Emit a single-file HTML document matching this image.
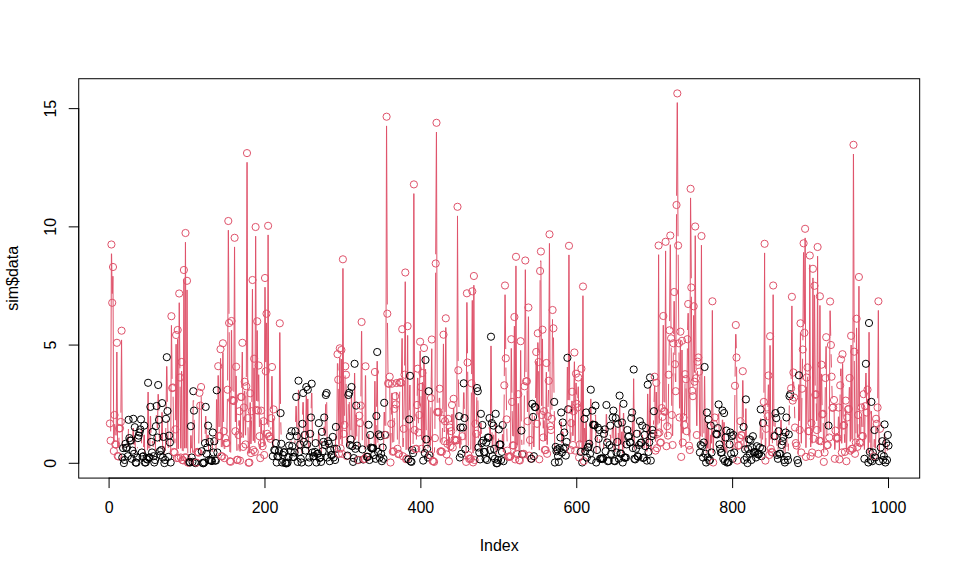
<!DOCTYPE html>
<html><head><meta charset="utf-8"><title>sim$data</title>
<style>html,body{margin:0;padding:0;background:#fff;}svg{display:block;}</style></head>
<body><svg width="960" height="576" viewBox="0 0 960 576">
<rect width="960" height="576" fill="#fff"/>
<g clip-path="url(#c)"><path d="M110.7 431.0L111.4 254.1M111.6 254.1L112.1 293.2M112.4 293.2L112.8 276.6M113.0 276.6L113.7 441.4M114.0 441.4L114.3 424.6M114.8 424.6L115.1 434.8M116.2 435.1L116.8 352.4M116.9 352.4L117.6 446.4M118.7 446.9L119.0 438.1M120.9 412.3L121.5 340.3M121.6 340.3L122.3 447.9M128.0 446.6L128.4 429.4M132.7 441.0L133.0 428.4M133.5 428.4L133.8 444.2M134.3 444.2L134.5 436.8M135.0 436.8L135.4 452.9M137.5 447.9L137.5 447.7M141.3 429.0L141.6 442.9M143.6 446.6L143.9 435.2M144.4 435.2L144.7 452.9M147.4 449.9L148.0 392.4M148.2 392.4L148.7 448.0M149.8 447.9L150.3 416.5M150.6 416.5L151.0 432.3M152.3 442.9L152.4 441.5M153.0 441.5L153.2 446.6M155.3 450.4L155.6 435.8M156.2 416.6L156.3 415.6M156.9 415.6L157.2 427.9M157.6 427.9L158.0 394.6M158.4 394.6L158.8 410.2M159.2 429.4L159.5 441.6M161.5 440.4L161.9 412.7M162.2 412.7L162.7 447.9M163.2 447.9L163.3 446.5M163.9 446.5L164.1 453.5M165.4 450.4L165.8 428.4M166.1 409.2L166.6 366.8M166.9 366.8L167.4 401.4M167.7 420.6L168.2 447.3M168.7 447.3L168.8 445.2M170.3 452.1L170.3 452.9M170.7 452.9L171.4 325.8M171.5 325.8L172.1 378.5M173.1 397.1L173.7 442.3M174.9 442.9L175.0 439.0M175.4 419.8L176.0 344.6M176.2 344.6L176.8 448.5M177.0 448.5L177.6 339.6M177.7 339.6L178.4 448.4M178.5 448.4L179.2 303.1M179.3 303.1L179.9 367.9M180.1 387.1L180.7 447.9M180.9 447.9L181.5 371.6M181.7 371.6L182.3 450.4M183.2 450.8L183.9 279.6M184.0 279.6L184.7 447.8M184.7 447.8L185.4 242.6M185.5 242.6L186.2 447.8M186.3 447.8L187.0 290.3M187.1 290.3L187.8 452.9M190.4 452.9L190.7 435.8M191.2 435.8L191.5 447.9M192.6 452.3L193.2 400.8M193.7 400.8L193.7 401.0M194.2 420.2L194.7 452.9M198.8 443.1L199.4 402.4M201.2 396.6L201.7 441.6M204.6 452.9L204.6 452.7M205.2 433.5L205.5 416.5M205.9 416.5L206.4 444.2M207.6 437.9L207.7 435.2M208.3 435.2L208.6 450.4M212.2 451.5L212.5 442.1M213.1 442.1L213.2 442.9M214.7 450.8L214.7 450.9M216.0 451.0L216.5 399.9M216.8 399.9L217.3 442.9M217.5 442.9L218.1 375.8M218.3 375.8L218.9 426.6M219.9 426.4L220.5 358.8M220.6 358.8L221.3 446.6M222.2 446.8L222.8 352.9M223.0 352.9L223.6 421.6M223.9 440.8L224.2 448.5M224.8 448.5L224.9 447.7M226.9 433.4L227.4 399.3M227.6 380.1L228.3 230.6M228.4 230.6L229.0 313.4M229.2 332.6L229.8 451.6M230.7 452.2L231.4 330.6M231.6 330.6L232.1 390.4M233.8 391.4L234.5 247.3M234.6 247.3L235.3 421.6M235.5 421.6L236.0 376.3M236.2 376.3L236.8 450.4M238.0 450.1L238.2 444.6M238.8 425.4L238.9 420.8M239.4 420.8L239.9 451.0M240.2 451.0L240.7 406.5M241.7 387.4L242.2 352.4M242.4 352.4L243.1 437.3M243.3 437.3L243.7 417.1M244.2 397.9L244.4 391.3M244.8 391.3L245.4 434.8M245.6 434.8L246.1 395.9M246.3 376.7L247.0 162.7M247.1 162.7L247.8 408.5M248.0 427.7L248.4 453.2M249.5 452.9L250.1 402.9M250.3 402.9L250.8 443.5M251.1 443.5L251.5 420.8M251.8 401.6L252.4 289.6M252.5 289.6L253.2 440.4M253.4 440.4L254.0 368.3M254.1 368.3L254.8 442.3M254.9 442.3L255.6 236.6M255.7 236.6L256.4 400.4M256.5 400.4L257.1 330.9M257.3 330.9L257.9 401.0M258.1 401.0L258.6 375.1M258.8 375.1L259.4 426.6M259.9 445.8L260.0 448.5M260.5 448.5L260.9 420.2M261.3 420.2L261.6 433.5M262.9 436.6L263.1 430.8M263.6 430.8L264.0 445.4M264.2 445.4L264.9 287.6M265.1 287.6L265.7 361.7M265.9 361.7L266.4 323.3M266.6 323.3L267.3 424.2M267.4 424.2L268.1 235.3M268.1 235.3L268.8 426.8M270.8 429.2L270.9 427.7M271.4 408.5L271.8 376.6M272.1 376.6L272.7 446.6M272.9 446.6L273.4 419.0M273.7 419.0L274.1 440.4M276.3 452.7L276.3 452.9M279.1 441.6L279.7 332.9M279.9 332.9L280.5 403.5M280.8 422.7L281.1 434.2M291.1 441.6L291.1 440.8M294.9 442.9L295.0 440.8M295.6 421.6L295.9 406.5M296.3 406.5L296.7 426.6M297.2 445.8L297.4 452.3M297.8 452.3L298.4 390.3M298.6 390.3L299.2 442.3M301.8 452.9L302.2 433.4M302.6 414.2L302.9 402.6M303.3 402.6L303.8 432.3M305.6 441.0L306.2 396.6M306.4 396.6L306.9 434.8M307.2 434.8L307.7 399.3M307.9 399.3L308.5 452.9M309.7 447.9L309.9 443.4M311.2 407.9L311.5 393.3M311.9 393.3L312.4 442.9M316.0 452.7L316.0 452.9M318.2 444.0L318.5 432.7M319.0 432.7L319.3 448.5M321.3 452.3L321.6 441.5M322.3 441.5L322.3 441.6M323.7 432.3L323.9 427.1M324.5 427.1L324.7 435.4M325.1 435.4L325.6 404.6M326.7 402.6L327.2 447.9M333.2 446.5L333.2 447.9M335.4 450.4L335.7 436.5M336.2 436.5L336.3 439.2M336.8 439.2L337.4 363.8M337.8 363.8L338.0 370.1M338.3 389.3L338.9 444.2M339.1 444.2L339.7 357.9M339.9 357.9L340.5 438.8M340.7 438.8L341.3 359.6M341.4 359.6L342.1 444.2M342.2 444.2L342.9 268.8M343.0 268.8L343.7 424.2M344.6 415.4L345.1 375.9M346.1 384.3L346.7 446.5M347.7 446.0L348.3 404.6M349.3 402.4L349.8 435.4M350.9 429.8L351.4 396.6M351.6 396.6L352.1 436.6M353.9 448.5L354.5 373.4M354.7 373.4L355.3 439.2M355.6 439.2L356.0 415.2M356.4 415.2L356.8 436.0M358.7 450.4L359.1 425.2M360.9 396.0L361.5 331.6M361.7 331.6L362.3 439.8M364.8 449.2L365.4 375.9M365.6 375.9L366.2 446.9M368.1 447.2L368.4 434.4M368.9 434.4L369.2 450.4M369.7 450.4L369.9 444.6M374.2 445.4L374.8 381.6M375.0 381.6L375.6 449.2M375.8 449.2L376.3 425.6M376.6 406.4L377.1 361.6M377.3 361.6L377.9 442.3M379.1 444.0L379.2 447.9M379.9 447.9L380.0 445.8M383.6 449.2L384.1 412.4M384.5 412.4L384.8 425.3M385.8 425.4L386.5 126.3M386.6 126.3L387.3 304.1M387.5 323.3L388.0 373.7M389.8 386.3L390.4 452.9M390.7 452.9L391.1 433.4M391.4 414.2L391.8 393.3M392.1 393.3L392.7 442.2M393.8 441.6L394.2 418.4M396.3 394.8L396.4 392.6M396.8 392.6L397.4 439.2M399.1 444.2L399.7 392.1M401.5 373.2L402.0 338.8M402.2 338.8L402.9 446.6M403.2 446.6L403.4 438.4M403.9 419.2L404.4 384.3M404.6 365.1L405.2 282.1M405.3 282.1L406.0 449.6M406.9 448.9L407.6 335.8M407.7 335.8L408.3 449.8M408.6 449.8L409.0 429.0M409.3 409.8L409.8 385.4M410.0 385.4L410.6 451.8M413.1 443.5L413.8 194.0M413.9 194.0L414.6 420.4M416.4 439.2L416.8 414.6M417.2 395.4L417.5 378.3M417.9 378.3L418.4 422.9M419.4 405.4L420.0 351.3M420.3 351.3L420.7 377.4M421.0 396.6L421.5 439.2M421.7 439.2L422.3 382.6M422.5 382.6L423.1 451.0M423.3 451.0L423.9 357.6M424.1 357.6L424.7 443.5M424.8 443.5L425.5 369.6M425.6 369.6L426.2 429.8M428.0 447.9L428.5 400.8M428.8 400.8L429.3 445.6M430.4 445.4L430.9 407.7M431.1 388.5L431.7 349.1M431.8 349.1L432.5 451.4M434.4 452.3L434.6 447.7M434.9 428.5L435.6 273.1M435.7 253.9L436.4 132.4M436.5 132.4L437.2 402.4M439.1 402.3L439.3 398.3M439.7 398.3L440.2 442.1M442.1 442.2L442.5 428.4M442.8 409.2L443.4 344.3M443.5 344.3L444.2 431.6M444.6 431.6L444.7 430.8M445.1 411.6L445.7 327.9M445.9 327.9L446.5 444.8M447.7 434.2L447.8 428.4M448.3 428.4L448.7 451.6M449.1 451.6L449.5 437.1M451.5 421.6L451.8 414.6M452.2 414.6L452.6 437.9M453.0 437.9L453.4 408.4M453.8 408.4L454.2 430.0M456.8 430.8L457.5 216.3M457.5 216.3L458.2 360.7M458.4 379.9L458.9 406.6M459.2 425.8L459.7 447.9M460.1 447.9L460.4 437.1M460.9 437.1L461.1 444.2M463.1 417.9L463.6 392.9M464.0 392.9L464.3 408.5M464.8 427.7L465.1 439.8M466.1 452.3L466.8 302.8M467.0 302.8L467.5 352.9M467.7 372.1L468.3 445.4M470.8 449.2L471.4 392.9M471.6 373.7L472.2 300.8M472.4 300.8L473.0 452.8M473.1 452.8L473.8 285.6M473.9 285.6L474.6 450.4M474.9 450.4L475.2 433.4M476.4 424.2L476.8 397.6M477.9 400.8L478.4 437.9M480.3 449.8L480.7 423.4M481.1 423.4L481.4 433.5M487.5 450.4L487.6 447.1M489.1 428.2L489.1 427.7M489.7 427.7L490.0 440.4M490.3 440.4L490.9 346.3M491.1 346.3L491.7 413.5M492.0 432.7L492.3 446.6M492.8 446.6L493.1 435.2M493.7 435.2L493.8 439.2M495.1 449.2L495.5 423.4M495.8 423.4L496.3 453.7M498.3 450.4L498.6 439.0M502.2 442.3L502.4 434.6M502.9 434.6L503.3 451.6M503.6 451.6L504.2 394.9M504.3 375.7L505.0 295.1M505.1 295.1L505.7 348.7M505.9 367.9L506.5 409.8M506.8 429.0L507.1 441.0M510.6 446.6L511.2 348.8M511.4 348.8L511.9 392.3M512.2 411.5L512.7 435.7M513.7 436.0L514.3 326.6M514.5 326.6L515.1 449.8M515.2 449.8L515.9 266.3M516.0 266.3L516.7 444.2M517.6 444.7L518.2 403.8M518.4 403.8L519.0 450.4M519.9 450.9L520.6 350.8M520.7 350.8L521.3 421.0M521.7 440.2L521.9 444.6M523.9 444.2L524.4 395.9M524.6 376.7L525.3 270.1M525.4 270.1L526.0 371.7M527.1 390.9L527.5 411.6M527.7 411.6L528.4 317.1M528.5 317.1L529.2 446.0M531.7 449.2L532.2 413.4M533.3 426.5L533.7 446.6M534.0 446.6L534.5 416.5M535.6 397.6L536.1 361.6M536.3 361.6L536.9 414.2M537.1 414.2L537.7 342.9M538.0 342.9L538.3 352.4M538.6 371.6L539.3 449.7M539.4 449.7L540.1 280.6M540.5 261.4L540.5 261.1M540.9 261.1L541.6 405.4M541.8 405.4L542.4 339.3M542.5 339.3L543.2 427.9M543.5 427.9L543.7 420.8M544.2 420.8L544.6 440.4M545.7 440.4L546.3 372.6M546.4 372.6L547.1 444.2M547.3 444.2L547.7 425.8M548.1 406.6L548.5 390.4M548.7 371.2L549.4 243.8M549.5 243.8L550.2 416.6M551.9 409.2L552.5 319.6M553.5 337.9L554.0 392.3M554.3 411.5L554.8 452.9M560.7 427.9L560.9 422.1M561.4 422.1L561.8 442.9M562.2 442.9L562.5 432.1M563.0 432.1L563.2 439.2M566.7 432.3L567.3 367.4M567.5 367.4L568.0 399.7M568.2 399.7L568.9 255.3M569.0 255.3L569.7 399.8M569.9 419.0L570.3 440.4M570.8 440.4L571.0 432.7M571.5 413.5L571.8 401.3M572.2 401.3L572.7 435.4M573.1 435.4L573.4 420.8M573.8 401.6L574.3 362.1M574.5 362.1L575.1 441.0M575.3 441.0L575.9 383.3M576.2 383.3L576.5 394.2M577.8 397.9L578.1 387.1M578.4 387.1L579.0 447.9M580.7 442.3L581.3 378.3M581.5 378.3L582.1 452.9M582.3 452.9L582.9 296.1M583.0 296.1L583.7 451.6M583.9 451.6L584.4 428.4M584.8 428.4L585.1 441.6M585.5 441.6L585.9 422.1M586.3 422.1L586.7 447.9M590.1 444.2L590.7 399.3M590.9 399.3L591.5 450.4M591.7 450.4L592.2 420.2M595.1 415.4L595.1 415.2M595.6 415.2L596.1 452.9M597.4 440.4L597.5 437.1M599.6 439.6L599.9 449.2M603.6 448.9L603.7 443.4M605.2 439.0L605.3 441.6M605.8 441.6L606.2 414.6M606.6 414.6L607.0 432.9M609.9 435.4L609.9 435.2M610.5 435.2L610.8 444.2M612.1 437.9L612.4 427.1M613.5 420.2L614.0 451.1M615.1 451.6L615.6 427.7M615.9 427.7L616.3 442.9M618.3 433.4L618.6 449.2M619.0 449.2L619.5 405.2M619.8 405.2L620.3 443.8M621.4 444.2L621.7 432.1M622.1 432.1L622.6 452.9M622.9 452.9L623.4 413.4M623.7 413.4L624.2 448.1M630.8 432.7L631.0 427.7M632.3 422.1L632.7 438.5M633.0 438.5L633.6 379.1M633.7 379.1L634.4 449.2M637.1 443.4L637.2 446.6M639.4 435.4L639.6 430.8M640.2 430.8L640.3 433.3M642.5 435.2L642.8 448.4M644.1 447.9L644.2 444.6M646.4 437.7L646.7 451.0M647.0 451.0L647.6 394.3M647.8 394.3L648.4 442.3M649.4 432.9L649.9 387.1M650.1 387.1L650.7 451.0M651.1 451.0L651.3 445.8M653.5 424.2L653.6 420.8M654.1 401.6L654.5 386.3M654.8 386.3L655.4 441.0M655.6 441.0L656.1 392.4M656.4 392.4L656.9 438.5M657.9 424.2L658.6 255.1M658.6 255.1L659.3 422.9M661.2 432.9L661.5 417.7M662.6 407.3L663.2 325.6M663.4 325.6L664.0 401.6M664.9 402.2L665.6 251.3M665.6 251.3L666.4 436.6M666.8 436.6L666.8 435.8M668.1 426.0L668.6 384.3M668.9 365.1L669.3 339.9M669.6 320.7L670.2 245.1M670.4 245.1L671.0 328.7M671.2 347.9L671.7 405.4M672.1 424.6L672.4 435.4M672.7 435.4L673.3 352.9M673.6 333.7L674.0 301.6M674.3 301.6L674.9 354.6M675.2 373.8L675.5 381.6M675.8 381.6L676.5 214.6M676.6 195.4L677.2 103.0M677.4 103.0L678.0 235.9M678.2 255.1L678.8 333.7M679.0 352.9L679.5 407.9M679.7 407.9L680.3 341.3M680.5 341.3L681.1 447.3M681.3 447.3L681.9 350.4M682.1 350.4L682.7 432.9M683.1 432.9L683.2 427.1M684.5 415.4L685.0 383.8M686.0 388.8L686.5 421.6M686.7 421.6L687.4 348.8M687.6 329.6L688.0 313.6M688.3 313.6L688.9 436.0M689.8 440.4L690.5 198.3M690.6 198.3L691.3 277.9M691.4 297.1L692.0 381.2M693.0 386.6L693.6 315.8M693.8 315.8L694.4 372.1M694.5 372.1L695.2 236.1M695.3 236.1L696.0 368.7M696.1 387.9L696.7 425.4M696.9 425.4L697.5 371.3M699.2 381.3L699.8 442.9M700.7 435.4L701.4 245.6M701.5 245.6L702.2 436.6M703.9 432.9L704.5 376.6M704.7 376.6L705.3 444.2M706.3 452.9L706.8 422.1M707.1 422.1L707.5 447.9M707.9 447.9L708.3 429.0M708.7 429.0L709.1 451.1M710.3 450.4L710.6 435.2M711.1 435.2L711.3 442.9M711.6 442.9L712.3 310.8M712.4 310.8L713.1 452.9M713.4 452.9L713.7 433.4M718.2 418.5L718.3 414.0M718.8 414.0L719.2 434.8M721.9 442.9L722.3 420.2M722.7 420.2L723.1 449.2M723.5 449.2L723.9 422.7M724.2 422.7L724.7 451.6M725.2 451.6L725.3 447.1M726.6 440.2L727.0 453.0M730.7 442.1L730.7 444.2M732.2 445.8L732.3 449.2M733.0 449.2L733.1 444.6M734.3 442.9L734.9 395.4M735.1 376.2L735.6 334.6M736.0 334.6L736.3 347.9M736.6 367.1L737.2 451.0M742.1 425.9L742.7 380.8M742.9 380.8L743.4 417.3M743.8 436.5L744.1 450.4M745.3 439.8L745.7 409.0M746.0 409.0L746.5 447.9M750.9 449.6L751.0 450.4M760.1 437.9L760.5 419.0M760.9 419.0L761.3 446.6M762.6 439.2L762.8 432.7M763.4 413.5L763.5 411.5M763.9 392.3L764.6 253.3M764.6 253.3L765.3 451.0M765.6 451.0L765.9 438.4M766.5 419.2L766.6 417.1M767.9 406.6L768.3 385.1M768.6 385.1L769.2 445.4M769.3 445.4L770.0 345.8M770.1 345.8L770.8 439.2M772.4 442.9L773.1 295.1M773.2 295.1L773.9 425.9M775.1 426.6L775.2 422.7M776.5 427.7L776.9 445.4M778.1 449.2L778.4 440.8M779.0 440.8L779.1 444.3M780.4 444.2L780.8 420.2M781.2 420.2L781.5 435.4M783.6 446.5L783.8 450.4M785.1 452.9L785.4 442.1M786.6 427.1L787.0 446.6M788.3 450.4L788.5 444.0M789.0 424.8L789.3 405.8M791.2 378.7L791.8 306.3M792.0 306.3L792.6 391.0M792.9 391.0L793.2 382.1M793.7 382.1L793.9 387.9M794.5 407.1L794.8 417.9M798.2 453.5L798.8 384.9M799.0 384.9L799.5 420.4M799.7 420.4L800.4 332.9M800.5 332.9L801.2 442.9M801.4 442.9L801.9 398.3M802.2 379.1L802.6 359.1M802.9 339.9L803.5 252.8M803.7 252.8L804.3 323.2M804.4 323.2L805.1 238.3M805.2 238.3L805.9 447.3M806.0 447.3L806.6 387.1M807.6 377.1L808.1 421.6M809.1 421.6L809.8 265.1M809.8 265.1L810.6 446.6M810.8 446.6L811.1 432.7M811.6 432.7L811.9 442.9M812.2 442.9L812.9 278.3M813.0 278.3L813.7 429.2M813.8 429.2L814.4 295.3M814.6 295.3L815.2 385.2M816.3 403.8L816.6 420.4M816.9 420.4L817.6 256.6M817.6 256.6L818.3 444.2M819.2 431.0L819.9 305.8M820.0 305.8L820.7 431.6M820.8 431.6L821.4 374.3M821.7 374.3L822.1 404.8M823.2 423.4L823.7 452.3M824.7 442.9L825.3 387.6M825.6 368.4L826.0 346.8M826.2 346.8L826.9 435.6M828.1 435.4L828.1 435.2M829.4 427.9L830.0 311.1M830.2 311.1L830.7 335.4M831.1 354.6L831.4 367.1M831.9 386.3L832.2 398.2M834.1 409.6L834.6 449.2M835.0 449.2L835.3 440.2M838.1 428.5L838.4 417.1M838.8 417.1L839.3 449.8M839.5 449.8L840.1 394.9M840.5 375.7L840.7 369.1M841.1 369.1L841.7 442.9M841.8 442.9L842.5 363.8M842.7 363.8L843.2 416.1M844.4 434.6L844.6 442.3M845.0 442.3L845.5 410.2M845.8 410.2L846.3 451.6M846.6 451.6L847.1 427.1M849.0 399.2L849.3 387.6M849.7 387.6L850.2 441.0M850.4 441.0L851.1 345.4M851.2 345.4L851.8 439.2M852.7 439.2L853.4 154.4M853.5 154.4L854.2 342.1M854.3 361.3L854.9 444.2M855.9 432.9L856.5 328.3M856.6 328.3L857.3 437.3M857.6 437.3L857.9 424.6M858.2 405.4L858.9 286.6M859.0 286.6L859.6 432.9M860.7 433.4L861.0 417.1M861.5 417.1L861.8 426.5M863.0 426.6L863.4 403.8M863.7 403.8L864.3 449.2M864.5 449.2L865.0 415.8M865.3 396.6L865.8 373.4M866.1 373.4L866.6 402.9M867.0 402.9L867.2 399.3M867.6 399.3L868.2 452.9M868.3 452.9L869.0 332.6M869.1 332.6L869.8 442.3M870.7 450.4L871.3 411.5M871.5 411.5L872.0 451.6M874.0 446.6L874.2 439.6M874.8 439.6L875.0 447.9M875.5 447.9L875.9 428.4M877.7 397.9L878.3 310.8M878.4 310.8L879.1 451.6M879.4 451.6L879.7 438.4M884.1 446.6L884.4 434.0M884.8 434.0L885.2 452.9M885.8 452.9L885.8 452.7M887.3 450.4L887.5 444.6" stroke="#DF536B" stroke-width="1" fill="none" stroke-linecap="round"/><g fill="none" stroke-width="1"><circle cx="109.9" cy="423.5" r="3.6" stroke="#DF536B"/><circle cx="110.6" cy="440.6" r="3.6" stroke="#DF536B"/><circle cx="111.4" cy="244.5" r="3.6" stroke="#DF536B"/><circle cx="112.2" cy="302.8" r="3.6" stroke="#DF536B"/><circle cx="113.0" cy="267.0" r="3.6" stroke="#DF536B"/><circle cx="113.8" cy="451.0" r="3.6" stroke="#DF536B"/><circle cx="114.5" cy="415.0" r="3.6" stroke="#DF536B"/><circle cx="115.3" cy="444.4" r="3.6" stroke="#DF536B"/><circle cx="116.1" cy="444.6" r="3.6" stroke="#DF536B"/><circle cx="116.9" cy="342.8" r="3.6" stroke="#DF536B"/><circle cx="117.7" cy="456.0" r="3.6" stroke="#DF536B"/><circle cx="118.4" cy="456.5" r="3.6" stroke="#DF536B"/><circle cx="119.2" cy="428.5" r="3.6" stroke="#DF536B"/><circle cx="120.0" cy="428.3" r="3.6" stroke="#DF536B"/><circle cx="120.8" cy="421.9" r="3.6" stroke="#DF536B"/><circle cx="121.6" cy="330.7" r="3.6" stroke="#DF536B"/><circle cx="122.3" cy="457.5" r="3.6" stroke="#000"/><circle cx="123.1" cy="448.1" r="3.6" stroke="#000"/><circle cx="123.9" cy="463.1" r="3.6" stroke="#000"/><circle cx="124.7" cy="460.0" r="3.6" stroke="#000"/><circle cx="125.5" cy="443.8" r="3.6" stroke="#000"/><circle cx="126.2" cy="448.1" r="3.6" stroke="#000"/><circle cx="127.0" cy="447.5" r="3.6" stroke="#000"/><circle cx="127.8" cy="456.2" r="3.6" stroke="#000"/><circle cx="128.6" cy="419.8" r="3.6" stroke="#000"/><circle cx="129.4" cy="438.1" r="3.6" stroke="#000"/><circle cx="130.1" cy="440.5" r="3.6" stroke="#000"/><circle cx="130.9" cy="440.6" r="3.6" stroke="#000"/><circle cx="131.7" cy="458.8" r="3.6" stroke="#000"/><circle cx="132.5" cy="450.6" r="3.6" stroke="#000"/><circle cx="133.3" cy="418.8" r="3.6" stroke="#000"/><circle cx="134.0" cy="453.8" r="3.6" stroke="#000"/><circle cx="134.8" cy="427.2" r="3.6" stroke="#000"/><circle cx="135.6" cy="462.5" r="3.6" stroke="#000"/><circle cx="136.4" cy="462.7" r="3.6" stroke="#000"/><circle cx="137.1" cy="457.5" r="3.6" stroke="#000"/><circle cx="137.9" cy="438.1" r="3.6" stroke="#000"/><circle cx="138.7" cy="435.6" r="3.6" stroke="#000"/><circle cx="139.5" cy="432.5" r="3.6" stroke="#000"/><circle cx="140.3" cy="429.4" r="3.6" stroke="#000"/><circle cx="141.0" cy="419.4" r="3.6" stroke="#000"/><circle cx="141.8" cy="452.5" r="3.6" stroke="#000"/><circle cx="142.6" cy="456.8" r="3.6" stroke="#000"/><circle cx="143.4" cy="456.2" r="3.6" stroke="#000"/><circle cx="144.2" cy="425.6" r="3.6" stroke="#000"/><circle cx="144.9" cy="462.5" r="3.6" stroke="#000"/><circle cx="145.7" cy="462.5" r="3.6" stroke="#000"/><circle cx="146.5" cy="458.8" r="3.6" stroke="#000"/><circle cx="147.3" cy="459.5" r="3.6" stroke="#000"/><circle cx="148.1" cy="382.8" r="3.6" stroke="#000"/><circle cx="148.8" cy="457.6" r="3.6" stroke="#000"/><circle cx="149.6" cy="457.5" r="3.6" stroke="#000"/><circle cx="150.4" cy="406.9" r="3.6" stroke="#000"/><circle cx="151.2" cy="441.9" r="3.6" stroke="#000"/><circle cx="152.0" cy="452.5" r="3.6" stroke="#000"/><circle cx="152.7" cy="431.9" r="3.6" stroke="#000"/><circle cx="153.5" cy="456.2" r="3.6" stroke="#000"/><circle cx="154.3" cy="462.5" r="3.6" stroke="#000"/><circle cx="155.1" cy="460.0" r="3.6" stroke="#000"/><circle cx="155.9" cy="426.2" r="3.6" stroke="#000"/><circle cx="156.6" cy="406.0" r="3.6" stroke="#000"/><circle cx="157.4" cy="437.5" r="3.6" stroke="#000"/><circle cx="158.2" cy="385.0" r="3.6" stroke="#000"/><circle cx="159.0" cy="419.8" r="3.6" stroke="#000"/><circle cx="159.8" cy="451.2" r="3.6" stroke="#000"/><circle cx="160.5" cy="455.0" r="3.6" stroke="#000"/><circle cx="161.3" cy="450.0" r="3.6" stroke="#000"/><circle cx="162.1" cy="403.1" r="3.6" stroke="#000"/><circle cx="162.9" cy="457.5" r="3.6" stroke="#000"/><circle cx="163.6" cy="436.9" r="3.6" stroke="#000"/><circle cx="164.4" cy="463.1" r="3.6" stroke="#000"/><circle cx="165.2" cy="460.0" r="3.6" stroke="#000"/><circle cx="166.0" cy="418.8" r="3.6" stroke="#000"/><circle cx="166.8" cy="357.2" r="3.6" stroke="#000"/><circle cx="167.5" cy="411.0" r="3.6" stroke="#000"/><circle cx="168.3" cy="456.9" r="3.6" stroke="#000"/><circle cx="169.1" cy="435.6" r="3.6" stroke="#000"/><circle cx="169.9" cy="442.5" r="3.6" stroke="#000"/><circle cx="170.7" cy="462.5" r="3.6" stroke="#000"/><circle cx="171.4" cy="316.2" r="3.6" stroke="#DF536B"/><circle cx="172.2" cy="388.1" r="3.6" stroke="#DF536B"/><circle cx="173.0" cy="387.5" r="3.6" stroke="#DF536B"/><circle cx="173.8" cy="451.9" r="3.6" stroke="#DF536B"/><circle cx="174.6" cy="452.5" r="3.6" stroke="#DF536B"/><circle cx="175.3" cy="429.4" r="3.6" stroke="#DF536B"/><circle cx="176.1" cy="335.0" r="3.6" stroke="#DF536B"/><circle cx="176.9" cy="458.1" r="3.6" stroke="#DF536B"/><circle cx="177.7" cy="330.0" r="3.6" stroke="#DF536B"/><circle cx="178.5" cy="458.0" r="3.6" stroke="#DF536B"/><circle cx="179.2" cy="293.5" r="3.6" stroke="#DF536B"/><circle cx="180.0" cy="377.5" r="3.6" stroke="#DF536B"/><circle cx="180.8" cy="457.5" r="3.6" stroke="#DF536B"/><circle cx="181.6" cy="362.0" r="3.6" stroke="#DF536B"/><circle cx="182.4" cy="460.0" r="3.6" stroke="#DF536B"/><circle cx="183.1" cy="460.4" r="3.6" stroke="#DF536B"/><circle cx="183.9" cy="270.0" r="3.6" stroke="#DF536B"/><circle cx="184.7" cy="457.4" r="3.6" stroke="#DF536B"/><circle cx="185.5" cy="233.0" r="3.6" stroke="#DF536B"/><circle cx="186.3" cy="457.4" r="3.6" stroke="#DF536B"/><circle cx="187.0" cy="280.8" r="3.6" stroke="#DF536B"/><circle cx="187.8" cy="462.5" r="3.6" stroke="#DF536B"/><circle cx="188.6" cy="462.6" r="3.6" stroke="#DF536B"/><circle cx="189.4" cy="462.0" r="3.6" stroke="#000"/><circle cx="190.1" cy="462.5" r="3.6" stroke="#000"/><circle cx="190.9" cy="426.2" r="3.6" stroke="#000"/><circle cx="191.7" cy="457.5" r="3.6" stroke="#000"/><circle cx="192.5" cy="461.9" r="3.6" stroke="#000"/><circle cx="193.3" cy="391.2" r="3.6" stroke="#000"/><circle cx="194.0" cy="410.6" r="3.6" stroke="#000"/><circle cx="194.8" cy="462.5" r="3.6" stroke="#000"/><circle cx="195.6" cy="463.1" r="3.6" stroke="#000"/><circle cx="196.4" cy="462.6" r="3.6" stroke="#DF536B"/><circle cx="197.2" cy="451.9" r="3.6" stroke="#DF536B"/><circle cx="197.9" cy="452.2" r="3.6" stroke="#DF536B"/><circle cx="198.7" cy="452.7" r="3.6" stroke="#DF536B"/><circle cx="199.5" cy="392.8" r="3.6" stroke="#DF536B"/><circle cx="200.3" cy="405.6" r="3.6" stroke="#DF536B"/><circle cx="201.1" cy="387.0" r="3.6" stroke="#DF536B"/><circle cx="201.8" cy="451.2" r="3.6" stroke="#000"/><circle cx="202.6" cy="463.0" r="3.6" stroke="#000"/><circle cx="203.4" cy="463.3" r="3.6" stroke="#000"/><circle cx="204.2" cy="462.5" r="3.6" stroke="#000"/><circle cx="205.0" cy="443.1" r="3.6" stroke="#000"/><circle cx="205.7" cy="406.9" r="3.6" stroke="#000"/><circle cx="206.5" cy="453.8" r="3.6" stroke="#000"/><circle cx="207.3" cy="447.5" r="3.6" stroke="#000"/><circle cx="208.1" cy="425.6" r="3.6" stroke="#000"/><circle cx="208.9" cy="460.0" r="3.6" stroke="#000"/><circle cx="209.6" cy="441.9" r="3.6" stroke="#000"/><circle cx="210.4" cy="460.2" r="3.6" stroke="#000"/><circle cx="211.2" cy="460.6" r="3.6" stroke="#000"/><circle cx="212.0" cy="461.1" r="3.6" stroke="#000"/><circle cx="212.8" cy="432.5" r="3.6" stroke="#000"/><circle cx="213.5" cy="452.5" r="3.6" stroke="#000"/><circle cx="214.3" cy="441.2" r="3.6" stroke="#000"/><circle cx="215.1" cy="460.5" r="3.6" stroke="#000"/><circle cx="215.9" cy="460.6" r="3.6" stroke="#000"/><circle cx="216.7" cy="390.3" r="3.6" stroke="#000"/><circle cx="217.4" cy="452.5" r="3.6" stroke="#000"/><circle cx="218.2" cy="366.2" r="3.6" stroke="#DF536B"/><circle cx="219.0" cy="436.2" r="3.6" stroke="#DF536B"/><circle cx="219.8" cy="436.0" r="3.6" stroke="#DF536B"/><circle cx="220.5" cy="349.2" r="3.6" stroke="#DF536B"/><circle cx="221.3" cy="456.2" r="3.6" stroke="#DF536B"/><circle cx="222.1" cy="456.4" r="3.6" stroke="#DF536B"/><circle cx="222.9" cy="343.3" r="3.6" stroke="#DF536B"/><circle cx="223.7" cy="431.2" r="3.6" stroke="#DF536B"/><circle cx="224.4" cy="458.1" r="3.6" stroke="#DF536B"/><circle cx="225.2" cy="438.1" r="3.6" stroke="#DF536B"/><circle cx="226.0" cy="443.1" r="3.6" stroke="#DF536B"/><circle cx="226.8" cy="443.0" r="3.6" stroke="#DF536B"/><circle cx="227.6" cy="389.7" r="3.6" stroke="#DF536B"/><circle cx="228.3" cy="221.0" r="3.6" stroke="#DF536B"/><circle cx="229.1" cy="323.0" r="3.6" stroke="#DF536B"/><circle cx="229.9" cy="461.2" r="3.6" stroke="#DF536B"/><circle cx="230.7" cy="461.8" r="3.6" stroke="#DF536B"/><circle cx="231.5" cy="321.0" r="3.6" stroke="#DF536B"/><circle cx="232.2" cy="400.0" r="3.6" stroke="#DF536B"/><circle cx="233.0" cy="400.6" r="3.6" stroke="#DF536B"/><circle cx="233.8" cy="401.0" r="3.6" stroke="#DF536B"/><circle cx="234.6" cy="237.8" r="3.6" stroke="#DF536B"/><circle cx="235.4" cy="431.2" r="3.6" stroke="#DF536B"/><circle cx="236.1" cy="366.7" r="3.6" stroke="#DF536B"/><circle cx="236.9" cy="460.0" r="3.6" stroke="#DF536B"/><circle cx="237.7" cy="459.7" r="3.6" stroke="#DF536B"/><circle cx="238.5" cy="435.0" r="3.6" stroke="#DF536B"/><circle cx="239.3" cy="411.2" r="3.6" stroke="#DF536B"/><circle cx="240.0" cy="460.6" r="3.6" stroke="#DF536B"/><circle cx="240.8" cy="396.9" r="3.6" stroke="#DF536B"/><circle cx="241.6" cy="397.0" r="3.6" stroke="#DF536B"/><circle cx="242.4" cy="342.8" r="3.6" stroke="#DF536B"/><circle cx="243.2" cy="446.9" r="3.6" stroke="#DF536B"/><circle cx="243.9" cy="407.5" r="3.6" stroke="#DF536B"/><circle cx="244.7" cy="381.7" r="3.6" stroke="#DF536B"/><circle cx="245.5" cy="444.4" r="3.6" stroke="#DF536B"/><circle cx="246.3" cy="386.3" r="3.6" stroke="#DF536B"/><circle cx="247.0" cy="153.1" r="3.6" stroke="#DF536B"/><circle cx="247.8" cy="418.1" r="3.6" stroke="#DF536B"/><circle cx="248.6" cy="462.8" r="3.6" stroke="#DF536B"/><circle cx="249.4" cy="462.5" r="3.6" stroke="#DF536B"/><circle cx="250.2" cy="393.3" r="3.6" stroke="#DF536B"/><circle cx="250.9" cy="453.1" r="3.6" stroke="#DF536B"/><circle cx="251.7" cy="411.2" r="3.6" stroke="#DF536B"/><circle cx="252.5" cy="280.0" r="3.6" stroke="#DF536B"/><circle cx="253.3" cy="450.0" r="3.6" stroke="#DF536B"/><circle cx="254.1" cy="358.7" r="3.6" stroke="#DF536B"/><circle cx="254.8" cy="451.9" r="3.6" stroke="#DF536B"/><circle cx="255.6" cy="227.0" r="3.6" stroke="#DF536B"/><circle cx="256.4" cy="410.0" r="3.6" stroke="#DF536B"/><circle cx="257.2" cy="321.3" r="3.6" stroke="#DF536B"/><circle cx="258.0" cy="410.6" r="3.6" stroke="#DF536B"/><circle cx="258.7" cy="365.5" r="3.6" stroke="#DF536B"/><circle cx="259.5" cy="436.2" r="3.6" stroke="#DF536B"/><circle cx="260.3" cy="458.1" r="3.6" stroke="#DF536B"/><circle cx="261.1" cy="410.6" r="3.6" stroke="#DF536B"/><circle cx="261.9" cy="443.1" r="3.6" stroke="#DF536B"/><circle cx="262.6" cy="446.2" r="3.6" stroke="#DF536B"/><circle cx="263.4" cy="421.2" r="3.6" stroke="#DF536B"/><circle cx="264.2" cy="455.0" r="3.6" stroke="#DF536B"/><circle cx="265.0" cy="278.0" r="3.6" stroke="#DF536B"/><circle cx="265.8" cy="371.3" r="3.6" stroke="#DF536B"/><circle cx="266.5" cy="313.7" r="3.6" stroke="#DF536B"/><circle cx="267.3" cy="433.8" r="3.6" stroke="#DF536B"/><circle cx="268.1" cy="225.8" r="3.6" stroke="#DF536B"/><circle cx="268.9" cy="436.4" r="3.6" stroke="#DF536B"/><circle cx="269.7" cy="436.2" r="3.6" stroke="#DF536B"/><circle cx="270.4" cy="438.8" r="3.6" stroke="#DF536B"/><circle cx="271.2" cy="418.1" r="3.6" stroke="#DF536B"/><circle cx="272.0" cy="367.0" r="3.6" stroke="#DF536B"/><circle cx="272.8" cy="456.2" r="3.6" stroke="#000"/><circle cx="273.6" cy="409.4" r="3.6" stroke="#DF536B"/><circle cx="274.3" cy="450.0" r="3.6" stroke="#000"/><circle cx="275.1" cy="450.4" r="3.6" stroke="#000"/><circle cx="275.9" cy="443.1" r="3.6" stroke="#000"/><circle cx="276.7" cy="462.5" r="3.6" stroke="#000"/><circle cx="277.4" cy="456.2" r="3.6" stroke="#000"/><circle cx="278.2" cy="456.7" r="3.6" stroke="#000"/><circle cx="279.0" cy="451.2" r="3.6" stroke="#000"/><circle cx="279.8" cy="323.3" r="3.6" stroke="#DF536B"/><circle cx="280.6" cy="413.1" r="3.6" stroke="#000"/><circle cx="281.3" cy="443.8" r="3.6" stroke="#000"/><circle cx="282.1" cy="462.5" r="3.6" stroke="#000"/><circle cx="282.9" cy="455.0" r="3.6" stroke="#000"/><circle cx="283.7" cy="452.5" r="3.6" stroke="#000"/><circle cx="284.5" cy="452.1" r="3.6" stroke="#000"/><circle cx="285.2" cy="463.1" r="3.6" stroke="#000"/><circle cx="286.0" cy="463.3" r="3.6" stroke="#000"/><circle cx="286.8" cy="463.3" r="3.6" stroke="#000"/><circle cx="287.6" cy="462.5" r="3.6" stroke="#000"/><circle cx="288.4" cy="456.9" r="3.6" stroke="#000"/><circle cx="289.1" cy="445.6" r="3.6" stroke="#000"/><circle cx="289.9" cy="436.2" r="3.6" stroke="#000"/><circle cx="290.7" cy="451.2" r="3.6" stroke="#000"/><circle cx="291.5" cy="431.2" r="3.6" stroke="#000"/><circle cx="292.3" cy="446.2" r="3.6" stroke="#000"/><circle cx="293.0" cy="457.1" r="3.6" stroke="#000"/><circle cx="293.8" cy="456.9" r="3.6" stroke="#000"/><circle cx="294.6" cy="452.5" r="3.6" stroke="#000"/><circle cx="295.4" cy="431.2" r="3.6" stroke="#000"/><circle cx="296.2" cy="396.9" r="3.6" stroke="#000"/><circle cx="296.9" cy="436.2" r="3.6" stroke="#000"/><circle cx="297.7" cy="461.9" r="3.6" stroke="#000"/><circle cx="298.5" cy="380.7" r="3.6" stroke="#000"/><circle cx="299.3" cy="451.9" r="3.6" stroke="#000"/><circle cx="300.1" cy="444.4" r="3.6" stroke="#000"/><circle cx="300.8" cy="458.8" r="3.6" stroke="#000"/><circle cx="301.6" cy="462.5" r="3.6" stroke="#000"/><circle cx="302.4" cy="423.8" r="3.6" stroke="#000"/><circle cx="303.2" cy="393.0" r="3.6" stroke="#000"/><circle cx="303.9" cy="441.9" r="3.6" stroke="#000"/><circle cx="304.7" cy="435.0" r="3.6" stroke="#000"/><circle cx="305.5" cy="450.6" r="3.6" stroke="#000"/><circle cx="306.3" cy="387.0" r="3.6" stroke="#000"/><circle cx="307.1" cy="444.4" r="3.6" stroke="#000"/><circle cx="307.8" cy="389.7" r="3.6" stroke="#000"/><circle cx="308.6" cy="462.5" r="3.6" stroke="#000"/><circle cx="309.4" cy="457.5" r="3.6" stroke="#000"/><circle cx="310.2" cy="433.8" r="3.6" stroke="#000"/><circle cx="311.0" cy="417.5" r="3.6" stroke="#000"/><circle cx="311.7" cy="383.7" r="3.6" stroke="#000"/><circle cx="312.5" cy="452.5" r="3.6" stroke="#000"/><circle cx="313.3" cy="456.3" r="3.6" stroke="#000"/><circle cx="314.1" cy="456.2" r="3.6" stroke="#000"/><circle cx="314.9" cy="451.9" r="3.6" stroke="#000"/><circle cx="315.6" cy="443.1" r="3.6" stroke="#000"/><circle cx="316.4" cy="462.5" r="3.6" stroke="#000"/><circle cx="317.2" cy="453.8" r="3.6" stroke="#000"/><circle cx="318.0" cy="453.6" r="3.6" stroke="#000"/><circle cx="318.8" cy="423.1" r="3.6" stroke="#000"/><circle cx="319.5" cy="458.1" r="3.6" stroke="#000"/><circle cx="320.3" cy="457.5" r="3.6" stroke="#000"/><circle cx="321.1" cy="461.9" r="3.6" stroke="#000"/><circle cx="321.9" cy="431.9" r="3.6" stroke="#000"/><circle cx="322.7" cy="451.2" r="3.6" stroke="#000"/><circle cx="323.4" cy="441.9" r="3.6" stroke="#000"/><circle cx="324.2" cy="417.5" r="3.6" stroke="#000"/><circle cx="325.0" cy="445.0" r="3.6" stroke="#000"/><circle cx="325.8" cy="395.0" r="3.6" stroke="#000"/><circle cx="326.6" cy="393.0" r="3.6" stroke="#000"/><circle cx="327.3" cy="457.5" r="3.6" stroke="#000"/><circle cx="328.1" cy="441.2" r="3.6" stroke="#000"/><circle cx="328.9" cy="443.8" r="3.6" stroke="#000"/><circle cx="329.7" cy="461.2" r="3.6" stroke="#000"/><circle cx="330.4" cy="450.0" r="3.6" stroke="#000"/><circle cx="331.2" cy="455.0" r="3.6" stroke="#000"/><circle cx="332.0" cy="455.0" r="3.6" stroke="#000"/><circle cx="332.8" cy="436.9" r="3.6" stroke="#000"/><circle cx="333.6" cy="457.5" r="3.6" stroke="#000"/><circle cx="334.3" cy="448.8" r="3.6" stroke="#000"/><circle cx="335.1" cy="460.0" r="3.6" stroke="#000"/><circle cx="335.9" cy="426.9" r="3.6" stroke="#000"/><circle cx="336.7" cy="448.8" r="3.6" stroke="#000"/><circle cx="337.5" cy="354.2" r="3.6" stroke="#DF536B"/><circle cx="338.2" cy="379.7" r="3.6" stroke="#DF536B"/><circle cx="339.0" cy="453.8" r="3.6" stroke="#DF536B"/><circle cx="339.8" cy="348.3" r="3.6" stroke="#DF536B"/><circle cx="340.6" cy="448.4" r="3.6" stroke="#DF536B"/><circle cx="341.4" cy="350.0" r="3.6" stroke="#DF536B"/><circle cx="342.1" cy="453.8" r="3.6" stroke="#DF536B"/><circle cx="342.9" cy="259.3" r="3.6" stroke="#DF536B"/><circle cx="343.7" cy="433.8" r="3.6" stroke="#DF536B"/><circle cx="344.5" cy="425.0" r="3.6" stroke="#DF536B"/><circle cx="345.3" cy="366.3" r="3.6" stroke="#DF536B"/><circle cx="346.0" cy="374.7" r="3.6" stroke="#DF536B"/><circle cx="346.8" cy="456.1" r="3.6" stroke="#DF536B"/><circle cx="347.6" cy="455.6" r="3.6" stroke="#000"/><circle cx="348.4" cy="395.0" r="3.6" stroke="#000"/><circle cx="349.2" cy="392.8" r="3.6" stroke="#000"/><circle cx="349.9" cy="445.0" r="3.6" stroke="#000"/><circle cx="350.7" cy="439.4" r="3.6" stroke="#000"/><circle cx="351.5" cy="387.0" r="3.6" stroke="#000"/><circle cx="352.3" cy="446.2" r="3.6" stroke="#000"/><circle cx="353.1" cy="461.9" r="3.6" stroke="#000"/><circle cx="353.8" cy="458.1" r="3.6" stroke="#000"/><circle cx="354.6" cy="363.8" r="3.6" stroke="#000"/><circle cx="355.4" cy="448.8" r="3.6" stroke="#000"/><circle cx="356.2" cy="405.6" r="3.6" stroke="#000"/><circle cx="357.0" cy="445.6" r="3.6" stroke="#000"/><circle cx="357.7" cy="460.0" r="3.6" stroke="#000"/><circle cx="358.5" cy="460.0" r="3.6" stroke="#DF536B"/><circle cx="359.3" cy="415.6" r="3.6" stroke="#DF536B"/><circle cx="360.1" cy="423.1" r="3.6" stroke="#DF536B"/><circle cx="360.8" cy="405.6" r="3.6" stroke="#DF536B"/><circle cx="361.6" cy="322.0" r="3.6" stroke="#DF536B"/><circle cx="362.4" cy="449.4" r="3.6" stroke="#000"/><circle cx="363.2" cy="459.5" r="3.6" stroke="#000"/><circle cx="364.0" cy="459.2" r="3.6" stroke="#DF536B"/><circle cx="364.7" cy="458.8" r="3.6" stroke="#DF536B"/><circle cx="365.5" cy="366.3" r="3.6" stroke="#DF536B"/><circle cx="366.3" cy="456.5" r="3.6" stroke="#DF536B"/><circle cx="367.1" cy="456.9" r="3.6" stroke="#000"/><circle cx="367.9" cy="456.8" r="3.6" stroke="#000"/><circle cx="368.6" cy="424.8" r="3.6" stroke="#000"/><circle cx="369.4" cy="460.0" r="3.6" stroke="#000"/><circle cx="370.2" cy="435.0" r="3.6" stroke="#000"/><circle cx="371.0" cy="447.6" r="3.6" stroke="#000"/><circle cx="371.8" cy="448.4" r="3.6" stroke="#000"/><circle cx="372.5" cy="448.1" r="3.6" stroke="#000"/><circle cx="373.3" cy="448.1" r="3.6" stroke="#000"/><circle cx="374.1" cy="455.0" r="3.6" stroke="#000"/><circle cx="374.9" cy="372.0" r="3.6" stroke="#DF536B"/><circle cx="375.7" cy="458.8" r="3.6" stroke="#000"/><circle cx="376.4" cy="416.0" r="3.6" stroke="#000"/><circle cx="377.2" cy="352.0" r="3.6" stroke="#000"/><circle cx="378.0" cy="451.9" r="3.6" stroke="#000"/><circle cx="378.8" cy="434.4" r="3.6" stroke="#000"/><circle cx="379.6" cy="457.5" r="3.6" stroke="#000"/><circle cx="380.3" cy="436.2" r="3.6" stroke="#000"/><circle cx="381.1" cy="453.8" r="3.6" stroke="#000"/><circle cx="381.9" cy="461.2" r="3.6" stroke="#000"/><circle cx="382.7" cy="447.5" r="3.6" stroke="#000"/><circle cx="383.5" cy="458.8" r="3.6" stroke="#000"/><circle cx="384.2" cy="402.8" r="3.6" stroke="#000"/><circle cx="385.0" cy="434.9" r="3.6" stroke="#000"/><circle cx="385.8" cy="435.0" r="3.6" stroke="#DF536B"/><circle cx="386.6" cy="116.7" r="3.6" stroke="#DF536B"/><circle cx="387.3" cy="313.7" r="3.6" stroke="#DF536B"/><circle cx="388.1" cy="383.3" r="3.6" stroke="#DF536B"/><circle cx="388.9" cy="383.9" r="3.6" stroke="#DF536B"/><circle cx="389.7" cy="376.7" r="3.6" stroke="#DF536B"/><circle cx="390.5" cy="462.5" r="3.6" stroke="#DF536B"/><circle cx="391.2" cy="423.8" r="3.6" stroke="#DF536B"/><circle cx="392.0" cy="383.7" r="3.6" stroke="#DF536B"/><circle cx="392.8" cy="451.8" r="3.6" stroke="#DF536B"/><circle cx="393.6" cy="451.2" r="3.6" stroke="#DF536B"/><circle cx="394.4" cy="408.8" r="3.6" stroke="#DF536B"/><circle cx="395.1" cy="396.2" r="3.6" stroke="#DF536B"/><circle cx="395.9" cy="404.4" r="3.6" stroke="#DF536B"/><circle cx="396.7" cy="383.0" r="3.6" stroke="#DF536B"/><circle cx="397.5" cy="448.8" r="3.6" stroke="#DF536B"/><circle cx="398.3" cy="454.1" r="3.6" stroke="#DF536B"/><circle cx="399.0" cy="453.8" r="3.6" stroke="#DF536B"/><circle cx="399.8" cy="382.5" r="3.6" stroke="#DF536B"/><circle cx="400.6" cy="382.2" r="3.6" stroke="#DF536B"/><circle cx="401.4" cy="382.8" r="3.6" stroke="#DF536B"/><circle cx="402.2" cy="329.2" r="3.6" stroke="#DF536B"/><circle cx="402.9" cy="456.2" r="3.6" stroke="#DF536B"/><circle cx="403.7" cy="428.8" r="3.6" stroke="#DF536B"/><circle cx="404.5" cy="374.7" r="3.6" stroke="#DF536B"/><circle cx="405.3" cy="272.5" r="3.6" stroke="#DF536B"/><circle cx="406.1" cy="459.2" r="3.6" stroke="#DF536B"/><circle cx="406.8" cy="458.5" r="3.6" stroke="#DF536B"/><circle cx="407.6" cy="326.2" r="3.6" stroke="#DF536B"/><circle cx="408.4" cy="459.4" r="3.6" stroke="#000"/><circle cx="409.2" cy="419.4" r="3.6" stroke="#000"/><circle cx="410.0" cy="375.8" r="3.6" stroke="#000"/><circle cx="410.7" cy="461.4" r="3.6" stroke="#000"/><circle cx="411.5" cy="461.9" r="3.6" stroke="#000"/><circle cx="412.3" cy="450.0" r="3.6" stroke="#000"/><circle cx="413.1" cy="453.1" r="3.6" stroke="#000"/><circle cx="413.9" cy="184.4" r="3.6" stroke="#DF536B"/><circle cx="414.6" cy="430.0" r="3.6" stroke="#DF536B"/><circle cx="415.4" cy="449.1" r="3.6" stroke="#DF536B"/><circle cx="416.2" cy="448.8" r="3.6" stroke="#DF536B"/><circle cx="417.0" cy="405.0" r="3.6" stroke="#DF536B"/><circle cx="417.7" cy="368.7" r="3.6" stroke="#DF536B"/><circle cx="418.5" cy="432.5" r="3.6" stroke="#DF536B"/><circle cx="419.3" cy="415.0" r="3.6" stroke="#DF536B"/><circle cx="420.1" cy="341.7" r="3.6" stroke="#DF536B"/><circle cx="420.9" cy="387.0" r="3.6" stroke="#DF536B"/><circle cx="421.6" cy="448.8" r="3.6" stroke="#DF536B"/><circle cx="422.4" cy="373.0" r="3.6" stroke="#DF536B"/><circle cx="423.2" cy="460.6" r="3.6" stroke="#000"/><circle cx="424.0" cy="348.0" r="3.6" stroke="#DF536B"/><circle cx="424.8" cy="453.1" r="3.6" stroke="#000"/><circle cx="425.5" cy="360.0" r="3.6" stroke="#000"/><circle cx="426.3" cy="439.4" r="3.6" stroke="#000"/><circle cx="427.1" cy="448.8" r="3.6" stroke="#000"/><circle cx="427.9" cy="457.5" r="3.6" stroke="#000"/><circle cx="428.7" cy="391.2" r="3.6" stroke="#000"/><circle cx="429.4" cy="455.2" r="3.6" stroke="#000"/><circle cx="430.2" cy="455.0" r="3.6" stroke="#DF536B"/><circle cx="431.0" cy="398.1" r="3.6" stroke="#DF536B"/><circle cx="431.8" cy="339.5" r="3.6" stroke="#DF536B"/><circle cx="432.6" cy="461.0" r="3.6" stroke="#DF536B"/><circle cx="433.3" cy="461.2" r="3.6" stroke="#DF536B"/><circle cx="434.1" cy="461.9" r="3.6" stroke="#DF536B"/><circle cx="434.9" cy="438.1" r="3.6" stroke="#DF536B"/><circle cx="435.7" cy="263.5" r="3.6" stroke="#DF536B"/><circle cx="436.5" cy="122.8" r="3.6" stroke="#DF536B"/><circle cx="437.2" cy="412.0" r="3.6" stroke="#DF536B"/><circle cx="438.0" cy="412.4" r="3.6" stroke="#DF536B"/><circle cx="438.8" cy="411.9" r="3.6" stroke="#DF536B"/><circle cx="439.6" cy="388.7" r="3.6" stroke="#DF536B"/><circle cx="440.4" cy="451.7" r="3.6" stroke="#DF536B"/><circle cx="441.1" cy="451.2" r="3.6" stroke="#DF536B"/><circle cx="441.9" cy="451.8" r="3.6" stroke="#DF536B"/><circle cx="442.7" cy="418.8" r="3.6" stroke="#DF536B"/><circle cx="443.5" cy="334.7" r="3.6" stroke="#DF536B"/><circle cx="444.2" cy="441.2" r="3.6" stroke="#DF536B"/><circle cx="445.0" cy="421.2" r="3.6" stroke="#DF536B"/><circle cx="445.8" cy="318.3" r="3.6" stroke="#DF536B"/><circle cx="446.6" cy="454.4" r="3.6" stroke="#DF536B"/><circle cx="447.4" cy="443.8" r="3.6" stroke="#DF536B"/><circle cx="448.1" cy="418.8" r="3.6" stroke="#DF536B"/><circle cx="448.9" cy="461.2" r="3.6" stroke="#DF536B"/><circle cx="449.7" cy="427.5" r="3.6" stroke="#DF536B"/><circle cx="450.5" cy="446.2" r="3.6" stroke="#DF536B"/><circle cx="451.3" cy="431.2" r="3.6" stroke="#DF536B"/><circle cx="452.0" cy="405.0" r="3.6" stroke="#DF536B"/><circle cx="452.8" cy="447.5" r="3.6" stroke="#DF536B"/><circle cx="453.6" cy="398.8" r="3.6" stroke="#DF536B"/><circle cx="454.4" cy="439.6" r="3.6" stroke="#DF536B"/><circle cx="455.2" cy="440.5" r="3.6" stroke="#DF536B"/><circle cx="455.9" cy="440.0" r="3.6" stroke="#DF536B"/><circle cx="456.7" cy="440.4" r="3.6" stroke="#DF536B"/><circle cx="457.5" cy="206.8" r="3.6" stroke="#DF536B"/><circle cx="458.3" cy="370.3" r="3.6" stroke="#DF536B"/><circle cx="459.1" cy="416.2" r="3.6" stroke="#000"/><circle cx="459.8" cy="457.5" r="3.6" stroke="#000"/><circle cx="460.6" cy="427.5" r="3.6" stroke="#000"/><circle cx="461.4" cy="453.8" r="3.6" stroke="#000"/><circle cx="462.2" cy="436.2" r="3.6" stroke="#DF536B"/><circle cx="463.0" cy="427.5" r="3.6" stroke="#000"/><circle cx="463.7" cy="383.3" r="3.6" stroke="#000"/><circle cx="464.5" cy="418.1" r="3.6" stroke="#000"/><circle cx="465.3" cy="449.4" r="3.6" stroke="#000"/><circle cx="466.1" cy="461.9" r="3.6" stroke="#DF536B"/><circle cx="466.9" cy="293.3" r="3.6" stroke="#DF536B"/><circle cx="467.6" cy="362.5" r="3.6" stroke="#DF536B"/><circle cx="468.4" cy="455.0" r="3.6" stroke="#DF536B"/><circle cx="469.2" cy="459.0" r="3.6" stroke="#DF536B"/><circle cx="470.0" cy="458.4" r="3.6" stroke="#DF536B"/><circle cx="470.8" cy="458.8" r="3.6" stroke="#DF536B"/><circle cx="471.5" cy="383.3" r="3.6" stroke="#DF536B"/><circle cx="472.3" cy="291.3" r="3.6" stroke="#DF536B"/><circle cx="473.1" cy="462.4" r="3.6" stroke="#DF536B"/><circle cx="473.9" cy="276.0" r="3.6" stroke="#DF536B"/><circle cx="474.6" cy="460.0" r="3.6" stroke="#DF536B"/><circle cx="475.4" cy="423.8" r="3.6" stroke="#DF536B"/><circle cx="476.2" cy="433.8" r="3.6" stroke="#DF536B"/><circle cx="477.0" cy="388.0" r="3.6" stroke="#000"/><circle cx="477.8" cy="391.2" r="3.6" stroke="#000"/><circle cx="478.5" cy="447.5" r="3.6" stroke="#000"/><circle cx="479.3" cy="452.5" r="3.6" stroke="#000"/><circle cx="480.1" cy="459.4" r="3.6" stroke="#000"/><circle cx="480.9" cy="413.8" r="3.6" stroke="#000"/><circle cx="481.7" cy="443.1" r="3.6" stroke="#000"/><circle cx="482.4" cy="425.0" r="3.6" stroke="#000"/><circle cx="483.2" cy="440.6" r="3.6" stroke="#000"/><circle cx="484.0" cy="452.0" r="3.6" stroke="#000"/><circle cx="484.8" cy="451.9" r="3.6" stroke="#000"/><circle cx="485.6" cy="458.8" r="3.6" stroke="#000"/><circle cx="486.3" cy="442.5" r="3.6" stroke="#000"/><circle cx="487.1" cy="460.0" r="3.6" stroke="#000"/><circle cx="487.9" cy="437.5" r="3.6" stroke="#000"/><circle cx="488.7" cy="437.8" r="3.6" stroke="#000"/><circle cx="489.5" cy="418.1" r="3.6" stroke="#000"/><circle cx="490.2" cy="450.0" r="3.6" stroke="#000"/><circle cx="491.0" cy="336.7" r="3.6" stroke="#000"/><circle cx="491.8" cy="423.1" r="3.6" stroke="#000"/><circle cx="492.6" cy="456.2" r="3.6" stroke="#000"/><circle cx="493.4" cy="425.6" r="3.6" stroke="#000"/><circle cx="494.1" cy="448.8" r="3.6" stroke="#000"/><circle cx="494.9" cy="458.8" r="3.6" stroke="#000"/><circle cx="495.7" cy="413.8" r="3.6" stroke="#000"/><circle cx="496.5" cy="463.3" r="3.6" stroke="#000"/><circle cx="497.3" cy="463.1" r="3.6" stroke="#000"/><circle cx="498.0" cy="460.0" r="3.6" stroke="#000"/><circle cx="498.8" cy="429.4" r="3.6" stroke="#000"/><circle cx="499.6" cy="444.5" r="3.6" stroke="#000"/><circle cx="500.4" cy="444.4" r="3.6" stroke="#000"/><circle cx="501.1" cy="460.0" r="3.6" stroke="#000"/><circle cx="501.9" cy="451.9" r="3.6" stroke="#000"/><circle cx="502.7" cy="425.0" r="3.6" stroke="#000"/><circle cx="503.5" cy="461.2" r="3.6" stroke="#000"/><circle cx="504.3" cy="385.3" r="3.6" stroke="#DF536B"/><circle cx="505.0" cy="285.5" r="3.6" stroke="#DF536B"/><circle cx="505.8" cy="358.3" r="3.6" stroke="#DF536B"/><circle cx="506.6" cy="419.4" r="3.6" stroke="#DF536B"/><circle cx="507.4" cy="450.6" r="3.6" stroke="#DF536B"/><circle cx="508.2" cy="456.8" r="3.6" stroke="#DF536B"/><circle cx="508.9" cy="456.6" r="3.6" stroke="#DF536B"/><circle cx="509.7" cy="456.9" r="3.6" stroke="#DF536B"/><circle cx="510.5" cy="456.2" r="3.6" stroke="#DF536B"/><circle cx="511.3" cy="339.2" r="3.6" stroke="#DF536B"/><circle cx="512.1" cy="401.9" r="3.6" stroke="#DF536B"/><circle cx="512.8" cy="445.3" r="3.6" stroke="#DF536B"/><circle cx="513.6" cy="445.6" r="3.6" stroke="#DF536B"/><circle cx="514.4" cy="317.0" r="3.6" stroke="#DF536B"/><circle cx="515.2" cy="459.4" r="3.6" stroke="#DF536B"/><circle cx="516.0" cy="256.8" r="3.6" stroke="#DF536B"/><circle cx="516.7" cy="453.8" r="3.6" stroke="#DF536B"/><circle cx="517.5" cy="454.3" r="3.6" stroke="#DF536B"/><circle cx="518.3" cy="394.2" r="3.6" stroke="#DF536B"/><circle cx="519.1" cy="460.0" r="3.6" stroke="#DF536B"/><circle cx="519.9" cy="460.5" r="3.6" stroke="#DF536B"/><circle cx="520.6" cy="341.2" r="3.6" stroke="#DF536B"/><circle cx="521.4" cy="430.6" r="3.6" stroke="#000"/><circle cx="522.2" cy="454.2" r="3.6" stroke="#000"/><circle cx="523.0" cy="454.6" r="3.6" stroke="#DF536B"/><circle cx="523.8" cy="453.8" r="3.6" stroke="#DF536B"/><circle cx="524.5" cy="386.3" r="3.6" stroke="#DF536B"/><circle cx="525.3" cy="260.5" r="3.6" stroke="#DF536B"/><circle cx="526.1" cy="381.3" r="3.6" stroke="#DF536B"/><circle cx="526.9" cy="381.3" r="3.6" stroke="#DF536B"/><circle cx="527.6" cy="421.2" r="3.6" stroke="#DF536B"/><circle cx="528.4" cy="307.5" r="3.6" stroke="#DF536B"/><circle cx="529.2" cy="455.6" r="3.6" stroke="#DF536B"/><circle cx="530.0" cy="440.0" r="3.6" stroke="#DF536B"/><circle cx="530.8" cy="458.7" r="3.6" stroke="#DF536B"/><circle cx="531.5" cy="458.8" r="3.6" stroke="#000"/><circle cx="532.3" cy="403.8" r="3.6" stroke="#000"/><circle cx="533.1" cy="416.9" r="3.6" stroke="#000"/><circle cx="533.9" cy="456.2" r="3.6" stroke="#000"/><circle cx="534.7" cy="406.9" r="3.6" stroke="#000"/><circle cx="535.4" cy="407.2" r="3.6" stroke="#000"/><circle cx="536.2" cy="352.0" r="3.6" stroke="#DF536B"/><circle cx="537.0" cy="423.8" r="3.6" stroke="#DF536B"/><circle cx="537.8" cy="333.3" r="3.6" stroke="#DF536B"/><circle cx="538.6" cy="362.0" r="3.6" stroke="#DF536B"/><circle cx="539.3" cy="459.3" r="3.6" stroke="#DF536B"/><circle cx="540.1" cy="271.0" r="3.6" stroke="#DF536B"/><circle cx="540.9" cy="251.5" r="3.6" stroke="#DF536B"/><circle cx="541.7" cy="415.0" r="3.6" stroke="#DF536B"/><circle cx="542.5" cy="329.7" r="3.6" stroke="#DF536B"/><circle cx="543.2" cy="437.5" r="3.6" stroke="#DF536B"/><circle cx="544.0" cy="411.2" r="3.6" stroke="#DF536B"/><circle cx="544.8" cy="450.0" r="3.6" stroke="#DF536B"/><circle cx="545.6" cy="450.0" r="3.6" stroke="#DF536B"/><circle cx="546.4" cy="363.0" r="3.6" stroke="#DF536B"/><circle cx="547.1" cy="453.8" r="3.6" stroke="#DF536B"/><circle cx="547.9" cy="416.2" r="3.6" stroke="#DF536B"/><circle cx="548.7" cy="380.8" r="3.6" stroke="#DF536B"/><circle cx="549.5" cy="234.3" r="3.6" stroke="#DF536B"/><circle cx="550.3" cy="426.2" r="3.6" stroke="#DF536B"/><circle cx="551.0" cy="430.0" r="3.6" stroke="#DF536B"/><circle cx="551.8" cy="418.8" r="3.6" stroke="#DF536B"/><circle cx="552.6" cy="310.0" r="3.6" stroke="#DF536B"/><circle cx="553.4" cy="328.3" r="3.6" stroke="#DF536B"/><circle cx="554.2" cy="401.9" r="3.6" stroke="#000"/><circle cx="554.9" cy="462.5" r="3.6" stroke="#000"/><circle cx="555.7" cy="446.9" r="3.6" stroke="#000"/><circle cx="556.5" cy="451.2" r="3.6" stroke="#000"/><circle cx="557.3" cy="449.4" r="3.6" stroke="#000"/><circle cx="558.0" cy="456.2" r="3.6" stroke="#000"/><circle cx="558.8" cy="461.9" r="3.6" stroke="#000"/><circle cx="559.6" cy="448.1" r="3.6" stroke="#000"/><circle cx="560.4" cy="437.5" r="3.6" stroke="#000"/><circle cx="561.2" cy="412.5" r="3.6" stroke="#000"/><circle cx="561.9" cy="452.5" r="3.6" stroke="#000"/><circle cx="562.7" cy="422.5" r="3.6" stroke="#000"/><circle cx="563.5" cy="448.8" r="3.6" stroke="#000"/><circle cx="564.3" cy="432.5" r="3.6" stroke="#000"/><circle cx="565.1" cy="447.5" r="3.6" stroke="#000"/><circle cx="565.8" cy="455.6" r="3.6" stroke="#000"/><circle cx="566.6" cy="441.9" r="3.6" stroke="#000"/><circle cx="567.4" cy="357.8" r="3.6" stroke="#000"/><circle cx="568.2" cy="409.3" r="3.6" stroke="#000"/><circle cx="569.0" cy="245.8" r="3.6" stroke="#DF536B"/><circle cx="569.7" cy="409.4" r="3.6" stroke="#DF536B"/><circle cx="570.5" cy="450.0" r="3.6" stroke="#DF536B"/><circle cx="571.3" cy="423.1" r="3.6" stroke="#DF536B"/><circle cx="572.1" cy="391.7" r="3.6" stroke="#DF536B"/><circle cx="572.9" cy="445.0" r="3.6" stroke="#DF536B"/><circle cx="573.6" cy="411.2" r="3.6" stroke="#DF536B"/><circle cx="574.4" cy="352.5" r="3.6" stroke="#DF536B"/><circle cx="575.2" cy="450.6" r="3.6" stroke="#DF536B"/><circle cx="576.0" cy="373.7" r="3.6" stroke="#DF536B"/><circle cx="576.8" cy="403.8" r="3.6" stroke="#DF536B"/><circle cx="577.5" cy="407.5" r="3.6" stroke="#DF536B"/><circle cx="578.3" cy="377.5" r="3.6" stroke="#DF536B"/><circle cx="579.1" cy="457.5" r="3.6" stroke="#DF536B"/><circle cx="579.9" cy="444.4" r="3.6" stroke="#DF536B"/><circle cx="580.7" cy="451.9" r="3.6" stroke="#000"/><circle cx="581.4" cy="368.7" r="3.6" stroke="#DF536B"/><circle cx="582.2" cy="462.5" r="3.6" stroke="#000"/><circle cx="583.0" cy="286.5" r="3.6" stroke="#DF536B"/><circle cx="583.8" cy="461.2" r="3.6" stroke="#DF536B"/><circle cx="584.5" cy="418.8" r="3.6" stroke="#000"/><circle cx="585.3" cy="451.2" r="3.6" stroke="#000"/><circle cx="586.1" cy="412.5" r="3.6" stroke="#000"/><circle cx="586.9" cy="457.5" r="3.6" stroke="#000"/><circle cx="587.7" cy="447.5" r="3.6" stroke="#000"/><circle cx="588.4" cy="446.9" r="3.6" stroke="#000"/><circle cx="589.2" cy="443.8" r="3.6" stroke="#000"/><circle cx="590.0" cy="453.8" r="3.6" stroke="#000"/><circle cx="590.8" cy="389.7" r="3.6" stroke="#000"/><circle cx="591.6" cy="460.0" r="3.6" stroke="#000"/><circle cx="592.3" cy="410.6" r="3.6" stroke="#000"/><circle cx="593.1" cy="424.7" r="3.6" stroke="#000"/><circle cx="593.9" cy="425.0" r="3.6" stroke="#000"/><circle cx="594.7" cy="425.0" r="3.6" stroke="#000"/><circle cx="595.5" cy="405.6" r="3.6" stroke="#000"/><circle cx="596.2" cy="462.5" r="3.6" stroke="#000"/><circle cx="597.0" cy="450.0" r="3.6" stroke="#000"/><circle cx="597.8" cy="427.5" r="3.6" stroke="#000"/><circle cx="598.6" cy="438.8" r="3.6" stroke="#000"/><circle cx="599.4" cy="430.0" r="3.6" stroke="#000"/><circle cx="600.1" cy="458.8" r="3.6" stroke="#000"/><circle cx="600.9" cy="458.6" r="3.6" stroke="#000"/><circle cx="601.7" cy="458.4" r="3.6" stroke="#000"/><circle cx="602.5" cy="459.0" r="3.6" stroke="#000"/><circle cx="603.3" cy="458.4" r="3.6" stroke="#000"/><circle cx="604.0" cy="433.8" r="3.6" stroke="#000"/><circle cx="604.8" cy="429.4" r="3.6" stroke="#000"/><circle cx="605.6" cy="451.2" r="3.6" stroke="#000"/><circle cx="606.4" cy="405.0" r="3.6" stroke="#000"/><circle cx="607.2" cy="442.5" r="3.6" stroke="#000"/><circle cx="607.9" cy="461.2" r="3.6" stroke="#000"/><circle cx="608.7" cy="460.8" r="3.6" stroke="#000"/><circle cx="609.5" cy="445.0" r="3.6" stroke="#000"/><circle cx="610.3" cy="425.6" r="3.6" stroke="#000"/><circle cx="611.1" cy="453.8" r="3.6" stroke="#000"/><circle cx="611.8" cy="447.5" r="3.6" stroke="#000"/><circle cx="612.6" cy="417.5" r="3.6" stroke="#000"/><circle cx="613.4" cy="410.6" r="3.6" stroke="#000"/><circle cx="614.2" cy="460.7" r="3.6" stroke="#000"/><circle cx="614.9" cy="461.2" r="3.6" stroke="#000"/><circle cx="615.7" cy="418.1" r="3.6" stroke="#000"/><circle cx="616.5" cy="452.5" r="3.6" stroke="#000"/><circle cx="617.3" cy="441.9" r="3.6" stroke="#000"/><circle cx="618.1" cy="423.8" r="3.6" stroke="#000"/><circle cx="618.8" cy="458.8" r="3.6" stroke="#000"/><circle cx="619.6" cy="395.6" r="3.6" stroke="#000"/><circle cx="620.4" cy="453.4" r="3.6" stroke="#000"/><circle cx="621.2" cy="453.8" r="3.6" stroke="#000"/><circle cx="622.0" cy="422.5" r="3.6" stroke="#000"/><circle cx="622.7" cy="462.5" r="3.6" stroke="#000"/><circle cx="623.5" cy="403.8" r="3.6" stroke="#000"/><circle cx="624.3" cy="457.7" r="3.6" stroke="#000"/><circle cx="625.1" cy="457.5" r="3.6" stroke="#000"/><circle cx="625.9" cy="457.6" r="3.6" stroke="#000"/><circle cx="626.6" cy="444.4" r="3.6" stroke="#000"/><circle cx="627.4" cy="430.0" r="3.6" stroke="#000"/><circle cx="628.2" cy="436.8" r="3.6" stroke="#000"/><circle cx="629.0" cy="436.2" r="3.6" stroke="#000"/><circle cx="629.8" cy="442.5" r="3.6" stroke="#000"/><circle cx="630.5" cy="442.3" r="3.6" stroke="#000"/><circle cx="631.3" cy="418.1" r="3.6" stroke="#000"/><circle cx="632.1" cy="412.5" r="3.6" stroke="#000"/><circle cx="632.9" cy="448.1" r="3.6" stroke="#000"/><circle cx="633.7" cy="369.5" r="3.6" stroke="#000"/><circle cx="634.4" cy="458.8" r="3.6" stroke="#000"/><circle cx="635.2" cy="459.4" r="3.6" stroke="#000"/><circle cx="636.0" cy="448.8" r="3.6" stroke="#000"/><circle cx="636.8" cy="433.8" r="3.6" stroke="#000"/><circle cx="637.6" cy="456.2" r="3.6" stroke="#000"/><circle cx="638.3" cy="456.8" r="3.6" stroke="#000"/><circle cx="639.1" cy="445.0" r="3.6" stroke="#000"/><circle cx="639.9" cy="421.2" r="3.6" stroke="#000"/><circle cx="640.7" cy="442.9" r="3.6" stroke="#000"/><circle cx="641.4" cy="442.5" r="3.6" stroke="#000"/><circle cx="642.2" cy="425.6" r="3.6" stroke="#000"/><circle cx="643.0" cy="458.0" r="3.6" stroke="#000"/><circle cx="643.8" cy="457.5" r="3.6" stroke="#000"/><circle cx="644.6" cy="435.0" r="3.6" stroke="#000"/><circle cx="645.3" cy="446.2" r="3.6" stroke="#000"/><circle cx="646.1" cy="428.1" r="3.6" stroke="#000"/><circle cx="646.9" cy="460.6" r="3.6" stroke="#000"/><circle cx="647.7" cy="384.7" r="3.6" stroke="#000"/><circle cx="648.5" cy="451.9" r="3.6" stroke="#000"/><circle cx="649.2" cy="442.5" r="3.6" stroke="#000"/><circle cx="650.0" cy="377.5" r="3.6" stroke="#000"/><circle cx="650.8" cy="460.6" r="3.6" stroke="#000"/><circle cx="651.6" cy="436.2" r="3.6" stroke="#000"/><circle cx="652.4" cy="430.0" r="3.6" stroke="#000"/><circle cx="653.1" cy="433.8" r="3.6" stroke="#000"/><circle cx="653.9" cy="411.2" r="3.6" stroke="#000"/><circle cx="654.7" cy="376.7" r="3.6" stroke="#DF536B"/><circle cx="655.5" cy="450.6" r="3.6" stroke="#DF536B"/><circle cx="656.3" cy="382.8" r="3.6" stroke="#DF536B"/><circle cx="657.0" cy="448.1" r="3.6" stroke="#DF536B"/><circle cx="657.8" cy="433.8" r="3.6" stroke="#DF536B"/><circle cx="658.6" cy="245.5" r="3.6" stroke="#DF536B"/><circle cx="659.4" cy="432.5" r="3.6" stroke="#DF536B"/><circle cx="660.2" cy="442.7" r="3.6" stroke="#DF536B"/><circle cx="660.9" cy="442.5" r="3.6" stroke="#DF536B"/><circle cx="661.7" cy="408.1" r="3.6" stroke="#DF536B"/><circle cx="662.5" cy="416.9" r="3.6" stroke="#DF536B"/><circle cx="663.3" cy="316.0" r="3.6" stroke="#DF536B"/><circle cx="664.1" cy="411.2" r="3.6" stroke="#DF536B"/><circle cx="664.8" cy="411.8" r="3.6" stroke="#DF536B"/><circle cx="665.6" cy="241.8" r="3.6" stroke="#DF536B"/><circle cx="666.4" cy="446.2" r="3.6" stroke="#DF536B"/><circle cx="667.2" cy="426.2" r="3.6" stroke="#DF536B"/><circle cx="668.0" cy="435.6" r="3.6" stroke="#DF536B"/><circle cx="668.7" cy="374.7" r="3.6" stroke="#DF536B"/><circle cx="669.5" cy="330.3" r="3.6" stroke="#DF536B"/><circle cx="670.3" cy="235.5" r="3.6" stroke="#DF536B"/><circle cx="671.1" cy="338.3" r="3.6" stroke="#DF536B"/><circle cx="671.8" cy="415.0" r="3.6" stroke="#DF536B"/><circle cx="672.6" cy="445.0" r="3.6" stroke="#DF536B"/><circle cx="673.4" cy="343.3" r="3.6" stroke="#DF536B"/><circle cx="674.2" cy="292.0" r="3.6" stroke="#DF536B"/><circle cx="675.0" cy="364.2" r="3.6" stroke="#DF536B"/><circle cx="675.7" cy="391.2" r="3.6" stroke="#DF536B"/><circle cx="676.5" cy="205.0" r="3.6" stroke="#DF536B"/><circle cx="677.3" cy="93.4" r="3.6" stroke="#DF536B"/><circle cx="678.1" cy="245.5" r="3.6" stroke="#DF536B"/><circle cx="678.9" cy="343.3" r="3.6" stroke="#DF536B"/><circle cx="679.6" cy="417.5" r="3.6" stroke="#DF536B"/><circle cx="680.4" cy="331.7" r="3.6" stroke="#DF536B"/><circle cx="681.2" cy="456.9" r="3.6" stroke="#DF536B"/><circle cx="682.0" cy="340.8" r="3.6" stroke="#DF536B"/><circle cx="682.8" cy="442.5" r="3.6" stroke="#DF536B"/><circle cx="683.5" cy="417.5" r="3.6" stroke="#DF536B"/><circle cx="684.3" cy="425.0" r="3.6" stroke="#DF536B"/><circle cx="685.1" cy="374.2" r="3.6" stroke="#DF536B"/><circle cx="685.9" cy="379.2" r="3.6" stroke="#DF536B"/><circle cx="686.7" cy="431.2" r="3.6" stroke="#DF536B"/><circle cx="687.4" cy="339.2" r="3.6" stroke="#DF536B"/><circle cx="688.2" cy="304.0" r="3.6" stroke="#DF536B"/><circle cx="689.0" cy="445.6" r="3.6" stroke="#DF536B"/><circle cx="689.8" cy="450.0" r="3.6" stroke="#DF536B"/><circle cx="690.6" cy="188.8" r="3.6" stroke="#DF536B"/><circle cx="691.3" cy="287.5" r="3.6" stroke="#DF536B"/><circle cx="692.1" cy="390.8" r="3.6" stroke="#DF536B"/><circle cx="692.9" cy="396.2" r="3.6" stroke="#DF536B"/><circle cx="693.7" cy="306.3" r="3.6" stroke="#DF536B"/><circle cx="694.5" cy="381.7" r="3.6" stroke="#DF536B"/><circle cx="695.2" cy="226.5" r="3.6" stroke="#DF536B"/><circle cx="696.0" cy="378.3" r="3.6" stroke="#DF536B"/><circle cx="696.8" cy="435.0" r="3.6" stroke="#DF536B"/><circle cx="697.6" cy="361.7" r="3.6" stroke="#DF536B"/><circle cx="698.3" cy="357.5" r="3.6" stroke="#DF536B"/><circle cx="699.1" cy="371.7" r="3.6" stroke="#DF536B"/><circle cx="699.9" cy="452.5" r="3.6" stroke="#000"/><circle cx="700.7" cy="445.0" r="3.6" stroke="#000"/><circle cx="701.5" cy="236.0" r="3.6" stroke="#DF536B"/><circle cx="702.2" cy="446.2" r="3.6" stroke="#000"/><circle cx="703.0" cy="457.5" r="3.6" stroke="#000"/><circle cx="703.8" cy="442.5" r="3.6" stroke="#000"/><circle cx="704.6" cy="367.0" r="3.6" stroke="#000"/><circle cx="705.4" cy="453.8" r="3.6" stroke="#000"/><circle cx="706.1" cy="462.5" r="3.6" stroke="#000"/><circle cx="706.9" cy="412.5" r="3.6" stroke="#000"/><circle cx="707.7" cy="457.5" r="3.6" stroke="#000"/><circle cx="708.5" cy="419.4" r="3.6" stroke="#000"/><circle cx="709.3" cy="460.7" r="3.6" stroke="#000"/><circle cx="710.0" cy="460.0" r="3.6" stroke="#000"/><circle cx="710.8" cy="425.6" r="3.6" stroke="#000"/><circle cx="711.6" cy="452.5" r="3.6" stroke="#000"/><circle cx="712.4" cy="301.3" r="3.6" stroke="#DF536B"/><circle cx="713.2" cy="462.5" r="3.6" stroke="#DF536B"/><circle cx="713.9" cy="423.8" r="3.6" stroke="#DF536B"/><circle cx="714.7" cy="417.5" r="3.6" stroke="#DF536B"/><circle cx="715.5" cy="434.3" r="3.6" stroke="#DF536B"/><circle cx="716.3" cy="433.8" r="3.6" stroke="#000"/><circle cx="717.1" cy="434.4" r="3.6" stroke="#000"/><circle cx="717.8" cy="428.1" r="3.6" stroke="#000"/><circle cx="718.6" cy="404.4" r="3.6" stroke="#000"/><circle cx="719.4" cy="444.4" r="3.6" stroke="#000"/><circle cx="720.2" cy="448.8" r="3.6" stroke="#000"/><circle cx="721.0" cy="452.7" r="3.6" stroke="#000"/><circle cx="721.7" cy="452.5" r="3.6" stroke="#000"/><circle cx="722.5" cy="410.6" r="3.6" stroke="#000"/><circle cx="723.3" cy="458.8" r="3.6" stroke="#000"/><circle cx="724.1" cy="413.1" r="3.6" stroke="#000"/><circle cx="724.8" cy="461.2" r="3.6" stroke="#000"/><circle cx="725.6" cy="437.5" r="3.6" stroke="#000"/><circle cx="726.4" cy="430.6" r="3.6" stroke="#000"/><circle cx="727.2" cy="462.6" r="3.6" stroke="#000"/><circle cx="728.0" cy="462.0" r="3.6" stroke="#000"/><circle cx="728.7" cy="461.9" r="3.6" stroke="#000"/><circle cx="729.5" cy="444.4" r="3.6" stroke="#000"/><circle cx="730.3" cy="432.5" r="3.6" stroke="#000"/><circle cx="731.1" cy="453.8" r="3.6" stroke="#000"/><circle cx="731.9" cy="436.2" r="3.6" stroke="#000"/><circle cx="732.6" cy="458.8" r="3.6" stroke="#000"/><circle cx="733.4" cy="435.0" r="3.6" stroke="#000"/><circle cx="734.2" cy="452.5" r="3.6" stroke="#000"/><circle cx="735.0" cy="385.8" r="3.6" stroke="#DF536B"/><circle cx="735.8" cy="325.0" r="3.6" stroke="#DF536B"/><circle cx="736.5" cy="357.5" r="3.6" stroke="#DF536B"/><circle cx="737.3" cy="460.6" r="3.6" stroke="#DF536B"/><circle cx="738.1" cy="445.6" r="3.6" stroke="#DF536B"/><circle cx="738.9" cy="445.4" r="3.6" stroke="#DF536B"/><circle cx="739.7" cy="438.1" r="3.6" stroke="#DF536B"/><circle cx="740.4" cy="421.2" r="3.6" stroke="#DF536B"/><circle cx="741.2" cy="435.0" r="3.6" stroke="#DF536B"/><circle cx="742.0" cy="435.5" r="3.6" stroke="#DF536B"/><circle cx="742.8" cy="371.2" r="3.6" stroke="#DF536B"/><circle cx="743.6" cy="426.9" r="3.6" stroke="#000"/><circle cx="744.3" cy="460.0" r="3.6" stroke="#000"/><circle cx="745.1" cy="449.4" r="3.6" stroke="#000"/><circle cx="745.9" cy="399.4" r="3.6" stroke="#000"/><circle cx="746.7" cy="457.5" r="3.6" stroke="#000"/><circle cx="747.5" cy="463.1" r="3.6" stroke="#000"/><circle cx="748.2" cy="448.8" r="3.6" stroke="#000"/><circle cx="749.0" cy="439.4" r="3.6" stroke="#000"/><circle cx="749.8" cy="453.8" r="3.6" stroke="#000"/><circle cx="750.6" cy="440.0" r="3.6" stroke="#000"/><circle cx="751.4" cy="460.0" r="3.6" stroke="#000"/><circle cx="752.1" cy="447.5" r="3.6" stroke="#000"/><circle cx="752.9" cy="436.2" r="3.6" stroke="#000"/><circle cx="753.7" cy="452.3" r="3.6" stroke="#000"/><circle cx="754.5" cy="452.5" r="3.6" stroke="#000"/><circle cx="755.2" cy="451.9" r="3.6" stroke="#000"/><circle cx="756.0" cy="457.5" r="3.6" stroke="#000"/><circle cx="756.8" cy="446.2" r="3.6" stroke="#000"/><circle cx="757.6" cy="454.0" r="3.6" stroke="#000"/><circle cx="758.4" cy="454.5" r="3.6" stroke="#000"/><circle cx="759.1" cy="453.8" r="3.6" stroke="#000"/><circle cx="759.9" cy="447.5" r="3.6" stroke="#000"/><circle cx="760.7" cy="409.4" r="3.6" stroke="#000"/><circle cx="761.5" cy="456.2" r="3.6" stroke="#000"/><circle cx="762.3" cy="448.8" r="3.6" stroke="#000"/><circle cx="763.0" cy="423.1" r="3.6" stroke="#000"/><circle cx="763.8" cy="401.9" r="3.6" stroke="#DF536B"/><circle cx="764.6" cy="243.8" r="3.6" stroke="#DF536B"/><circle cx="765.4" cy="460.6" r="3.6" stroke="#DF536B"/><circle cx="766.2" cy="428.8" r="3.6" stroke="#DF536B"/><circle cx="766.9" cy="407.5" r="3.6" stroke="#DF536B"/><circle cx="767.7" cy="416.2" r="3.6" stroke="#DF536B"/><circle cx="768.5" cy="375.5" r="3.6" stroke="#DF536B"/><circle cx="769.3" cy="455.0" r="3.6" stroke="#DF536B"/><circle cx="770.1" cy="336.2" r="3.6" stroke="#DF536B"/><circle cx="770.8" cy="448.8" r="3.6" stroke="#DF536B"/><circle cx="771.6" cy="452.0" r="3.6" stroke="#DF536B"/><circle cx="772.4" cy="452.5" r="3.6" stroke="#DF536B"/><circle cx="773.2" cy="285.5" r="3.6" stroke="#DF536B"/><circle cx="774.0" cy="435.5" r="3.6" stroke="#DF536B"/><circle cx="774.7" cy="436.2" r="3.6" stroke="#000"/><circle cx="775.5" cy="413.1" r="3.6" stroke="#000"/><circle cx="776.3" cy="418.1" r="3.6" stroke="#000"/><circle cx="777.1" cy="455.0" r="3.6" stroke="#000"/><circle cx="777.9" cy="458.8" r="3.6" stroke="#000"/><circle cx="778.6" cy="431.2" r="3.6" stroke="#000"/><circle cx="779.4" cy="453.8" r="3.6" stroke="#000"/><circle cx="780.2" cy="453.8" r="3.6" stroke="#000"/><circle cx="781.0" cy="410.6" r="3.6" stroke="#000"/><circle cx="781.7" cy="445.0" r="3.6" stroke="#000"/><circle cx="782.5" cy="441.2" r="3.6" stroke="#000"/><circle cx="783.3" cy="436.9" r="3.6" stroke="#000"/><circle cx="784.1" cy="460.0" r="3.6" stroke="#000"/><circle cx="784.9" cy="462.5" r="3.6" stroke="#000"/><circle cx="785.6" cy="432.5" r="3.6" stroke="#000"/><circle cx="786.4" cy="417.5" r="3.6" stroke="#000"/><circle cx="787.2" cy="456.2" r="3.6" stroke="#000"/><circle cx="788.0" cy="460.0" r="3.6" stroke="#000"/><circle cx="788.8" cy="434.4" r="3.6" stroke="#000"/><circle cx="789.5" cy="396.2" r="3.6" stroke="#000"/><circle cx="790.3" cy="394.2" r="3.6" stroke="#000"/><circle cx="791.1" cy="388.3" r="3.6" stroke="#DF536B"/><circle cx="791.9" cy="296.8" r="3.6" stroke="#DF536B"/><circle cx="792.7" cy="400.6" r="3.6" stroke="#DF536B"/><circle cx="793.4" cy="372.5" r="3.6" stroke="#DF536B"/><circle cx="794.2" cy="397.5" r="3.6" stroke="#DF536B"/><circle cx="795.0" cy="427.5" r="3.6" stroke="#DF536B"/><circle cx="795.8" cy="443.1" r="3.6" stroke="#DF536B"/><circle cx="796.6" cy="445.6" r="3.6" stroke="#DF536B"/><circle cx="797.3" cy="460.0" r="3.6" stroke="#000"/><circle cx="798.1" cy="463.1" r="3.6" stroke="#000"/><circle cx="798.9" cy="375.3" r="3.6" stroke="#000"/><circle cx="799.7" cy="430.0" r="3.6" stroke="#DF536B"/><circle cx="800.5" cy="323.3" r="3.6" stroke="#DF536B"/><circle cx="801.2" cy="452.5" r="3.6" stroke="#DF536B"/><circle cx="802.0" cy="388.7" r="3.6" stroke="#DF536B"/><circle cx="802.8" cy="349.5" r="3.6" stroke="#DF536B"/><circle cx="803.6" cy="243.3" r="3.6" stroke="#DF536B"/><circle cx="804.4" cy="332.8" r="3.6" stroke="#DF536B"/><circle cx="805.1" cy="228.8" r="3.6" stroke="#DF536B"/><circle cx="805.9" cy="456.9" r="3.6" stroke="#DF536B"/><circle cx="806.7" cy="377.5" r="3.6" stroke="#DF536B"/><circle cx="807.5" cy="367.5" r="3.6" stroke="#DF536B"/><circle cx="808.3" cy="431.2" r="3.6" stroke="#DF536B"/><circle cx="809.0" cy="431.2" r="3.6" stroke="#DF536B"/><circle cx="809.8" cy="255.5" r="3.6" stroke="#DF536B"/><circle cx="810.6" cy="456.2" r="3.6" stroke="#DF536B"/><circle cx="811.4" cy="423.1" r="3.6" stroke="#DF536B"/><circle cx="812.1" cy="452.5" r="3.6" stroke="#DF536B"/><circle cx="812.9" cy="268.8" r="3.6" stroke="#DF536B"/><circle cx="813.7" cy="438.8" r="3.6" stroke="#DF536B"/><circle cx="814.5" cy="285.8" r="3.6" stroke="#DF536B"/><circle cx="815.3" cy="394.8" r="3.6" stroke="#DF536B"/><circle cx="816.0" cy="394.2" r="3.6" stroke="#DF536B"/><circle cx="816.8" cy="430.0" r="3.6" stroke="#DF536B"/><circle cx="817.6" cy="247.0" r="3.6" stroke="#DF536B"/><circle cx="818.4" cy="453.8" r="3.6" stroke="#DF536B"/><circle cx="819.2" cy="440.6" r="3.6" stroke="#DF536B"/><circle cx="819.9" cy="296.3" r="3.6" stroke="#DF536B"/><circle cx="820.7" cy="441.2" r="3.6" stroke="#DF536B"/><circle cx="821.5" cy="364.7" r="3.6" stroke="#DF536B"/><circle cx="822.3" cy="414.4" r="3.6" stroke="#DF536B"/><circle cx="823.1" cy="413.8" r="3.6" stroke="#DF536B"/><circle cx="823.8" cy="461.9" r="3.6" stroke="#DF536B"/><circle cx="824.6" cy="452.5" r="3.6" stroke="#DF536B"/><circle cx="825.4" cy="378.0" r="3.6" stroke="#DF536B"/><circle cx="826.2" cy="337.2" r="3.6" stroke="#DF536B"/><circle cx="827.0" cy="445.2" r="3.6" stroke="#DF536B"/><circle cx="827.7" cy="445.0" r="3.6" stroke="#DF536B"/><circle cx="828.5" cy="425.6" r="3.6" stroke="#000"/><circle cx="829.3" cy="437.5" r="3.6" stroke="#DF536B"/><circle cx="830.1" cy="301.5" r="3.6" stroke="#DF536B"/><circle cx="830.9" cy="345.0" r="3.6" stroke="#DF536B"/><circle cx="831.6" cy="376.7" r="3.6" stroke="#DF536B"/><circle cx="832.4" cy="407.8" r="3.6" stroke="#DF536B"/><circle cx="833.2" cy="407.5" r="3.6" stroke="#DF536B"/><circle cx="834.0" cy="400.0" r="3.6" stroke="#DF536B"/><circle cx="834.8" cy="458.8" r="3.6" stroke="#DF536B"/><circle cx="835.5" cy="430.6" r="3.6" stroke="#DF536B"/><circle cx="836.3" cy="437.6" r="3.6" stroke="#DF536B"/><circle cx="837.1" cy="438.6" r="3.6" stroke="#DF536B"/><circle cx="837.9" cy="438.1" r="3.6" stroke="#DF536B"/><circle cx="838.6" cy="407.5" r="3.6" stroke="#DF536B"/><circle cx="839.4" cy="459.4" r="3.6" stroke="#DF536B"/><circle cx="840.2" cy="385.3" r="3.6" stroke="#DF536B"/><circle cx="841.0" cy="359.5" r="3.6" stroke="#DF536B"/><circle cx="841.8" cy="452.5" r="3.6" stroke="#DF536B"/><circle cx="842.5" cy="354.2" r="3.6" stroke="#DF536B"/><circle cx="843.3" cy="425.7" r="3.6" stroke="#DF536B"/><circle cx="844.1" cy="425.0" r="3.6" stroke="#DF536B"/><circle cx="844.9" cy="451.9" r="3.6" stroke="#DF536B"/><circle cx="845.7" cy="400.6" r="3.6" stroke="#DF536B"/><circle cx="846.4" cy="461.2" r="3.6" stroke="#DF536B"/><circle cx="847.2" cy="417.5" r="3.6" stroke="#DF536B"/><circle cx="848.0" cy="409.4" r="3.6" stroke="#DF536B"/><circle cx="848.8" cy="408.8" r="3.6" stroke="#DF536B"/><circle cx="849.6" cy="378.0" r="3.6" stroke="#DF536B"/><circle cx="850.3" cy="450.6" r="3.6" stroke="#DF536B"/><circle cx="851.1" cy="335.8" r="3.6" stroke="#DF536B"/><circle cx="851.9" cy="448.8" r="3.6" stroke="#DF536B"/><circle cx="852.7" cy="448.8" r="3.6" stroke="#DF536B"/><circle cx="853.5" cy="144.8" r="3.6" stroke="#DF536B"/><circle cx="854.2" cy="351.7" r="3.6" stroke="#DF536B"/><circle cx="855.0" cy="453.8" r="3.6" stroke="#DF536B"/><circle cx="855.8" cy="442.5" r="3.6" stroke="#DF536B"/><circle cx="856.6" cy="318.7" r="3.6" stroke="#DF536B"/><circle cx="857.4" cy="446.9" r="3.6" stroke="#DF536B"/><circle cx="858.1" cy="415.0" r="3.6" stroke="#DF536B"/><circle cx="858.9" cy="277.0" r="3.6" stroke="#DF536B"/><circle cx="859.7" cy="442.5" r="3.6" stroke="#DF536B"/><circle cx="860.5" cy="443.0" r="3.6" stroke="#DF536B"/><circle cx="861.3" cy="407.5" r="3.6" stroke="#DF536B"/><circle cx="862.0" cy="436.1" r="3.6" stroke="#DF536B"/><circle cx="862.8" cy="436.2" r="3.6" stroke="#DF536B"/><circle cx="863.6" cy="394.2" r="3.6" stroke="#DF536B"/><circle cx="864.4" cy="458.8" r="3.6" stroke="#000"/><circle cx="865.1" cy="406.2" r="3.6" stroke="#DF536B"/><circle cx="865.9" cy="363.8" r="3.6" stroke="#000"/><circle cx="866.7" cy="412.5" r="3.6" stroke="#DF536B"/><circle cx="867.5" cy="389.7" r="3.6" stroke="#DF536B"/><circle cx="868.3" cy="462.5" r="3.6" stroke="#000"/><circle cx="869.0" cy="323.0" r="3.6" stroke="#000"/><circle cx="869.8" cy="451.9" r="3.6" stroke="#000"/><circle cx="870.6" cy="460.0" r="3.6" stroke="#000"/><circle cx="871.4" cy="401.9" r="3.6" stroke="#000"/><circle cx="872.2" cy="461.2" r="3.6" stroke="#000"/><circle cx="872.9" cy="452.5" r="3.6" stroke="#000"/><circle cx="873.7" cy="456.2" r="3.6" stroke="#DF536B"/><circle cx="874.5" cy="430.0" r="3.6" stroke="#000"/><circle cx="875.3" cy="457.5" r="3.6" stroke="#000"/><circle cx="876.1" cy="418.8" r="3.6" stroke="#DF536B"/><circle cx="876.8" cy="423.8" r="3.6" stroke="#DF536B"/><circle cx="877.6" cy="407.5" r="3.6" stroke="#DF536B"/><circle cx="878.4" cy="301.3" r="3.6" stroke="#DF536B"/><circle cx="879.2" cy="461.2" r="3.6" stroke="#000"/><circle cx="880.0" cy="428.8" r="3.6" stroke="#DF536B"/><circle cx="880.7" cy="447.5" r="3.6" stroke="#000"/><circle cx="881.5" cy="455.0" r="3.6" stroke="#000"/><circle cx="882.3" cy="441.2" r="3.6" stroke="#000"/><circle cx="883.1" cy="460.0" r="3.6" stroke="#000"/><circle cx="883.9" cy="456.2" r="3.6" stroke="#000"/><circle cx="884.6" cy="424.4" r="3.6" stroke="#000"/><circle cx="885.4" cy="462.5" r="3.6" stroke="#000"/><circle cx="886.2" cy="443.1" r="3.6" stroke="#000"/><circle cx="887.0" cy="460.0" r="3.6" stroke="#000"/><circle cx="887.8" cy="435.0" r="3.6" stroke="#000"/><circle cx="888.5" cy="445.6" r="3.6" stroke="#000"/></g></g>
<clipPath id="c"><rect x="78.72" y="78.72" width="840.96" height="399.36"/></clipPath>
<rect x="78.72" y="78.72" width="840.96" height="399.36" fill="none" stroke="#000" stroke-width="1"/><path d="M78.72 463.29H69.12M78.72 345.07H69.12M78.72 226.86H69.12M78.72 108.64H69.12M109.09 478.08V487.68M264.98 478.08V487.68M420.87 478.08V487.68M576.75 478.08V487.68M732.64 478.08V487.68M888.53 478.08V487.68M109.09 478.08H888.53M78.72 463.29V108.64" stroke="#000" stroke-width="1" fill="none" stroke-linecap="round"/>
<g font-family="Liberation Sans, Arial, Helvetica, sans-serif" font-size="16" fill="#000"><text x="109.09" y="513.0" text-anchor="middle">0</text><text x="264.98" y="513.0" text-anchor="middle">200</text><text x="420.87" y="513.0" text-anchor="middle">400</text><text x="576.75" y="513.0" text-anchor="middle">600</text><text x="732.64" y="513.0" text-anchor="middle">800</text><text x="888.53" y="513.0" text-anchor="middle">1000</text><text transform="translate(56.3 463.29) rotate(-90)" text-anchor="middle">0</text><text transform="translate(56.3 345.07) rotate(-90)" text-anchor="middle">5</text><text transform="translate(56.3 226.86) rotate(-90)" text-anchor="middle">10</text><text transform="translate(56.3 108.64) rotate(-90)" text-anchor="middle">15</text><text x="499.20" y="551" text-anchor="middle">Index</text><text transform="translate(17.7 278.40) rotate(-90)" text-anchor="middle">sim$data</text></g>
</svg></body></html>
